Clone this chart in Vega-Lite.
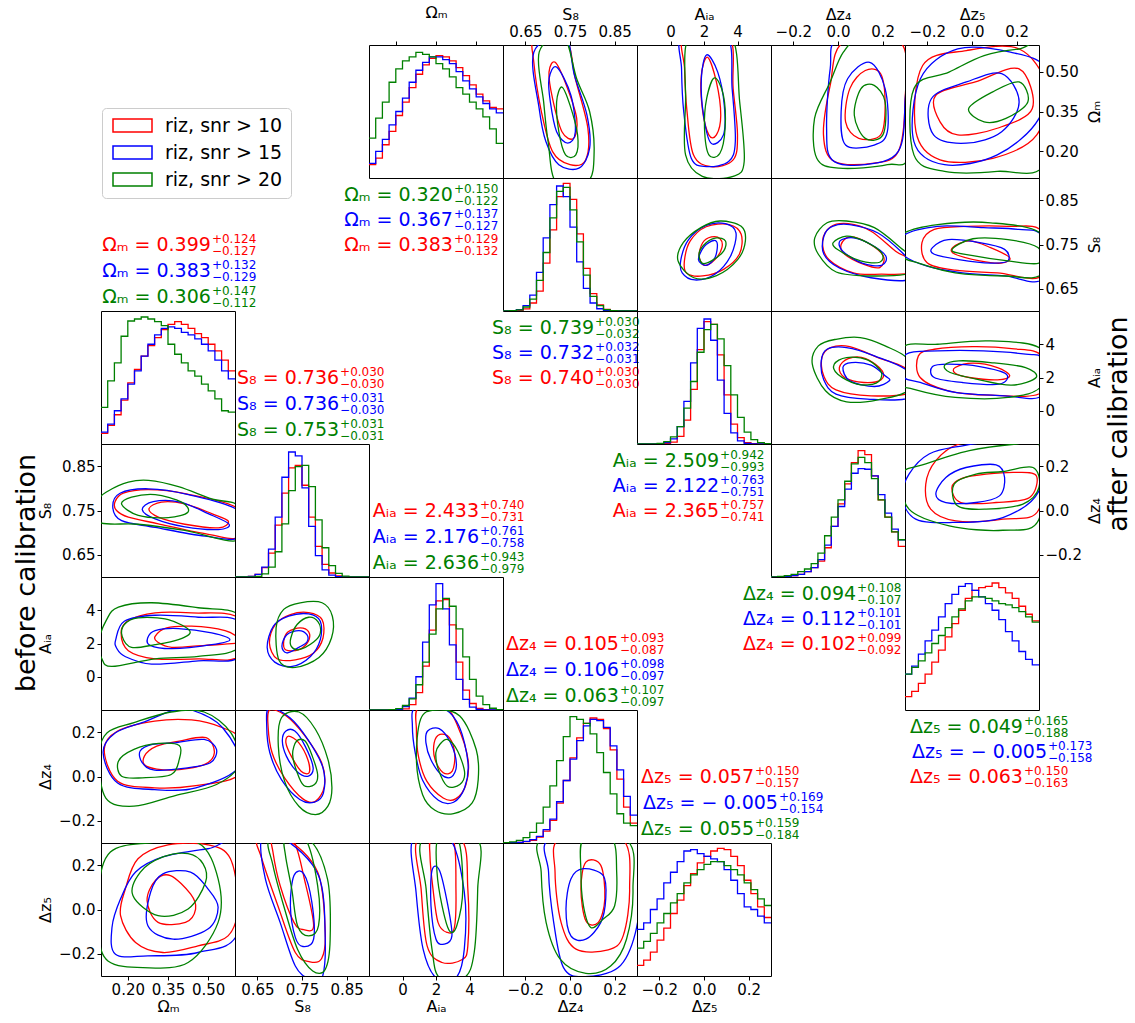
{
"$schema":"https://vega.github.io/schema/vega-lite/v6.json",
"padding":{"left":12,"top":4,"right":5,"bottom":5},
"columns":7,"spacing":0,"bounds":"flush","align":"all",
"resolve":{"scale":{"x":"independent","y":"independent","color":"independent"},"legend":{"color":"independent"}},
"config":{"font":"DejaVu Sans","view":{"stroke":"#000000","strokeWidth":1},"axis":{"labelFontSize":15,"titleFontSize":16,"labelColor":"#000000","titleColor":"#000000","tickColor":"#000000","domain":false,"grid":false,"titleFontWeight":"normal","labelOverlap":false,"labelFlush":false,"tickSize":4,"labelPadding":2,"titlePadding":2}},
"concat":[
{"width":134,"height":133,"view":{"stroke":null},"data":{"values":[{"s":"a"},{"s":"b"},{"s":"c"}]},"mark":{"type":"point","clip":true},"encoding":{"x":{"datum":-5,"type":"quantitative","scale":{"domain":[0,1]},"axis":null},"color":{"field":"s","type":"nominal","scale":{"domain":["a","b","c"],"range":["#ff0000","#0000ff","#008000"]},"legend":{"orient":"none","legendX":1,"legendY":63,"title":null,"symbolType":"M-3,-1H3V1H-3Z","symbolSize":169,"symbolOffset":13,"symbolStrokeWidth":1.5,"symbolOpacity":1,"labelFontSize":19,"labelExpr":"datum.label=='a'?'riz, snr > 10':datum.label=='b'?'riz, snr > 15':'riz, snr > 20'","strokeColor":"#cccccc","fillColor":"#ffffff","cornerRadius":4,"padding":8,"rowPadding":7,"labelOffset":23}}}},
{"width":134,"height":133,"view":{"stroke":null},"data":{"values":[]},"mark":"point"},
{"width":134,"height":133,
"encoding":{"x":{"field":"x","type":"quantitative","scale":{"domain":[0.1,0.6]},"axis":{"orient":"top","values":[0.2,0.35,0.5],"labels":false,"title":"Ωₘ","titlePadding":20}},"y":{"field":"h","type":"quantitative","scale":{"domain":[0,1]},"axis":null},"color":{"field":"s","type":"nominal","scale":{"domain":["a1","a2","b1","b2","c1","c2"],"range":["#ff0000","#ff0000","#0000ff","#0000ff","#008000","#008000"]},"legend":null}},
"layer":[
{"data":{"values":[{"x":0.1,"a1":0.1,"b1":0.11,"c1":0.3},{"x":0.125,"a1":0.15,"b1":0.2,"c1":0.45},{"x":0.15,"a1":0.25,"b1":0.29,"c1":0.57},{"x":0.175,"a1":0.35,"b1":0.4,"c1":0.72},{"x":0.2,"a1":0.47,"b1":0.5,"c1":0.82},{"x":0.225,"a1":0.57,"b1":0.6,"c1":0.88},{"x":0.25,"a1":0.68,"b1":0.72,"c1":0.91},{"x":0.275,"a1":0.78,"b1":0.81,"c1":0.945},{"x":0.3,"a1":0.85,"b1":0.87,"c1":0.93},{"x":0.325,"a1":0.9,"b1":0.91,"c1":0.91},{"x":0.35,"a1":0.92,"b1":0.91,"c1":0.86},{"x":0.375,"a1":0.91,"b1":0.89,"c1":0.82},{"x":0.4,"a1":0.88,"b1":0.86,"c1":0.76},{"x":0.425,"a1":0.83,"b1":0.8,"c1":0.68},{"x":0.45,"a1":0.77,"b1":0.73,"c1":0.63},{"x":0.475,"a1":0.7,"b1":0.67,"c1":0.57},{"x":0.5,"a1":0.63,"b1":0.61,"c1":0.52},{"x":0.525,"a1":0.58,"b1":0.56,"c1":0.46},{"x":0.55,"a1":0.53,"b1":0.52,"c1":0.37},{"x":0.575,"a1":0.52,"b1":0.49,"c1":0.26},{"x":0.6,"a1":0.52,"b1":0.49,"c1":0.26}]},"transform":[{"fold":["a1","b1","c1"],"as":["s","h"]}],"mark":{"type":"line","interpolate":"step-after","clip":true,"strokeWidth":1.3}},
{"data":{"values":[{"s":"c1","m":"Ωₘ = 0.320","u":"+0.150","d":"−0.122","x":0.413,"h":-0.128},{"s":"b1","m":"Ωₘ = 0.367","u":"+0.137","d":"−0.127","x":0.413,"h":-0.316},{"s":"a1","m":"Ωₘ = 0.383","u":"+0.129","d":"−0.132","x":0.413,"h":-0.504}]},
"layer":[{"mark":{"type":"text","align":"right","baseline":"middle","fontSize":19},"encoding":{"text":{"field":"m"}}},{"mark":{"type":"text","align":"left","baseline":"middle","fontSize":12,"dy":-6.5,"dx":1},"encoding":{"text":{"field":"u"}}},{"mark":{"type":"text","align":"left","baseline":"middle","fontSize":12,"dy":5.5,"dx":1},"encoding":{"text":{"field":"d"}}}]}
]},
{"width":134,"height":133,"data":{"values":[
{"s":"a1","x":0.717,"y":0.535},{"s":"a1","x":0.742,"y":0.448},{"s":"a1","x":0.765,"y":0.324},{"s":"a1","x":0.758,"y":0.249},{"s":"a1","x":0.732,"y":0.274},{"s":"a1","x":0.711,"y":0.398},{"s":"a1","x":0.703,"y":0.498},
{"s":"a2","x":0.74,"y":0.622},{"s":"a2","x":0.762,"y":0.473},{"s":"a2","x":0.79,"y":0.287},{"s":"a2","x":0.785,"y":0.168},{"s":"a2","x":0.75,"y":0.15},{"s":"a2","x":0.711,"y":0.199},{"s":"a2","x":0.686,"y":0.349},{"s":"a2","x":0.669,"y":0.535},{"s":"a2","x":0.671,"y":0.622},
{"s":"b1","x":0.72,"y":0.517},{"s":"b1","x":0.752,"y":0.411},{"s":"b1","x":0.762,"y":0.274},{"s":"b1","x":0.745,"y":0.231},{"s":"b1","x":0.72,"y":0.274},{"s":"b1","x":0.706,"y":0.386},{"s":"b1","x":0.703,"y":0.473},
{"s":"b2","x":0.738,"y":0.635},{"s":"b2","x":0.76,"y":0.486},{"s":"b2","x":0.788,"y":0.336},{"s":"b2","x":0.794,"y":0.212},{"s":"b2","x":0.77,"y":0.137},{"s":"b2","x":0.725,"y":0.15},{"s":"b2","x":0.696,"y":0.237},{"s":"b2","x":0.681,"y":0.361},{"s":"b2","x":0.669,"y":0.573},
{"s":"c1","x":0.732,"y":0.442},{"s":"c1","x":0.75,"y":0.374},{"s":"c1","x":0.767,"y":0.262},{"s":"c1","x":0.763,"y":0.187},{"s":"c1","x":0.74,"y":0.187},{"s":"c1","x":0.725,"y":0.274},{"s":"c1","x":0.72,"y":0.386},
{"s":"c2","x":0.735,"y":0.635},{"s":"c2","x":0.765,"y":0.473},{"s":"c2","x":0.794,"y":0.349},{"s":"c2","x":0.804,"y":0.199},{"s":"c2","x":0.79,"y":0.087},{"s":"c2","x":0.72,"y":0.081},{"s":"c2","x":0.701,"y":0.237},{"s":"c2","x":0.691,"y":0.386},{"s":"c2","x":0.681,"y":0.573}]},
"mark":{"type":"line","interpolate":"cardinal-closed","clip":true,"strokeWidth":1.3},
"encoding":{"x":{"field":"x","type":"quantitative","scale":{"domain":[0.6,0.9]},"axis":{"orient":"top","values":[0.65,0.75,0.85],"format":".2f","title":"S₈"}},"y":{"field":"y","type":"quantitative","scale":{"domain":[0.1,0.6]},"axis":null},"color":{"field":"s","type":"nominal","scale":{"domain":["a1","a2","b1","b2","c1","c2"],"range":["#ff0000","#ff0000","#0000ff","#0000ff","#008000","#008000"]},"legend":null},"order":{"value":null}}},
{"width":134,"height":133,"data":{"values":[
{"s":"a1","x":2.21,"y":0.554},{"s":"a1","x":2.74,"y":0.461},{"s":"a1","x":3.0,"y":0.336},{"s":"a1","x":2.74,"y":0.262},{"s":"a1","x":2.29,"y":0.262},{"s":"a1","x":1.9,"y":0.361},{"s":"a1","x":1.84,"y":0.486},
{"s":"a2","x":0.84,"y":0.635},{"s":"a2","x":3.47,"y":0.635},{"s":"a2","x":3.74,"y":0.436},{"s":"a2","x":4.0,"y":0.262},{"s":"a2","x":3.74,"y":0.168},{"s":"a2","x":2.42,"y":0.143},{"s":"a2","x":1.37,"y":0.187},{"s":"a2","x":0.97,"y":0.361},{"s":"a2","x":0.84,"y":0.51},
{"s":"b1","x":2.16,"y":0.563},{"s":"b1","x":2.82,"y":0.498},{"s":"b1","x":3.21,"y":0.374},{"s":"b1","x":3.16,"y":0.262},{"s":"b1","x":2.42,"y":0.231},{"s":"b1","x":1.97,"y":0.336},{"s":"b1","x":1.84,"y":0.473},
{"s":"b2","x":0.71,"y":0.635},{"s":"b2","x":3.34,"y":0.635},{"s":"b2","x":3.68,"y":0.436},{"s":"b2","x":3.87,"y":0.237},{"s":"b2","x":3.47,"y":0.162},{"s":"b2","x":2.16,"y":0.143},{"s":"b2","x":1.24,"y":0.174},{"s":"b2","x":0.79,"y":0.349},{"s":"b2","x":0.66,"y":0.51},
{"s":"c1","x":2.63,"y":0.476},{"s":"c1","x":3.16,"y":0.411},{"s":"c1","x":3.26,"y":0.287},{"s":"c1","x":2.95,"y":0.193},{"s":"c1","x":2.29,"y":0.187},{"s":"c1","x":2.03,"y":0.287},{"s":"c1","x":2.16,"y":0.399},
{"s":"c2","x":1.11,"y":0.635},{"s":"c2","x":3.61,"y":0.635},{"s":"c2","x":4.13,"y":0.386},{"s":"c2","x":4.4,"y":0.162},{"s":"c2","x":3.74,"y":0.106},{"s":"c2","x":1.9,"y":0.106},{"s":"c2","x":0.9,"y":0.187},{"s":"c2","x":0.9,"y":0.386}]},
"mark":{"type":"line","interpolate":"cardinal-closed","clip":true,"strokeWidth":1.3},
"encoding":{"x":{"field":"x","type":"quantitative","scale":{"domain":[-2,6]},"axis":{"orient":"top","values":[0,2,4],"format":"d","title":"Aᵢₐ"}},"y":{"field":"y","type":"quantitative","scale":{"domain":[0.1,0.6]},"axis":null},"color":{"field":"s","type":"nominal","scale":{"domain":["a1","a2","b1","b2","c1","c2"],"range":["#ff0000","#ff0000","#0000ff","#0000ff","#008000","#008000"]},"legend":null},"order":{"value":null}}},
{"width":134,"height":133,"data":{"values":[
{"s":"a1","x":0.053,"y":0.436},{"s":"a1","x":0.122,"y":0.504},{"s":"a1","x":0.191,"y":0.492},{"s":"a1","x":0.211,"y":0.374},{"s":"a1","x":0.191,"y":0.262},{"s":"a1","x":0.093,"y":0.249},{"s":"a1","x":0.034,"y":0.311},
{"s":"a2","x":0.024,"y":0.61},{"s":"a2","x":0.28,"y":0.61},{"s":"a2","x":0.3,"y":0.386},{"s":"a2","x":0.27,"y":0.2},{"s":"a2","x":0.162,"y":0.156},{"s":"a2","x":-0.016,"y":0.162},{"s":"a2","x":-0.065,"y":0.262},{"s":"a2","x":-0.035,"y":0.448},
{"s":"b1","x":0.043,"y":0.473},{"s":"b1","x":0.142,"y":0.535},{"s":"b1","x":0.211,"y":0.436},{"s":"b1","x":0.221,"y":0.274},{"s":"b1","x":0.162,"y":0.224},{"s":"b1","x":0.034,"y":0.224},{"s":"b1","x":0.014,"y":0.349},
{"s":"b2","x":0.004,"y":0.622},{"s":"b2","x":0.29,"y":0.622},{"s":"b2","x":0.3,"y":0.386},{"s":"b2","x":0.27,"y":0.2},{"s":"b2","x":0.122,"y":0.15},{"s":"b2","x":-0.026,"y":0.168},{"s":"b2","x":-0.051,"y":0.287},{"s":"b2","x":-0.035,"y":0.51},
{"s":"c1","x":0.103,"y":0.436},{"s":"c1","x":0.162,"y":0.448},{"s":"c1","x":0.211,"y":0.386},{"s":"c1","x":0.201,"y":0.262},{"s":"c1","x":0.122,"y":0.249},{"s":"c1","x":0.073,"y":0.336},
{"s":"c2","x":0.103,"y":0.622},{"s":"c2","x":0.32,"y":0.622},{"s":"c2","x":0.32,"y":0.2},{"s":"c2","x":0.221,"y":0.15},{"s":"c2","x":0.004,"y":0.137},{"s":"c2","x":-0.095,"y":0.174},{"s":"c2","x":-0.105,"y":0.324},{"s":"c2","x":-0.035,"y":0.461},{"s":"c2","x":0.024,"y":0.573}]},
"mark":{"type":"line","interpolate":"cardinal-closed","clip":true,"strokeWidth":1.3},
"encoding":{"x":{"field":"x","type":"quantitative","scale":{"domain":[-0.3,0.3]},"axis":{"orient":"top","values":[-0.2,0,0.2],"format":".1f","title":"Δz₄"}},"y":{"field":"y","type":"quantitative","scale":{"domain":[0.1,0.6]},"axis":null},"color":{"field":"s","type":"nominal","scale":{"domain":["a1","a2","b1","b2","c1","c2"],"range":["#ff0000","#ff0000","#0000ff","#0000ff","#008000","#008000"]},"legend":null},"order":{"value":null}}},
{"width":134,"height":133,"data":{"values":[
{"s":"a1","x":-0.162,"y":0.411},{"s":"a1","x":0.015,"y":0.461},{"s":"a1","x":0.211,"y":0.51},{"s":"a1","x":0.27,"y":0.361},{"s":"a1","x":0.113,"y":0.287},{"s":"a1","x":-0.064,"y":0.262},{"s":"a1","x":-0.143,"y":0.311},
{"s":"a2","x":-0.221,"y":0.523},{"s":"a2","x":-0.025,"y":0.579},{"s":"a2","x":0.211,"y":0.585},{"s":"a2","x":0.33,"y":0.448},{"s":"a2","x":0.29,"y":0.262},{"s":"a2","x":0.093,"y":0.174},{"s":"a2","x":-0.143,"y":0.168},{"s":"a2","x":-0.251,"y":0.274},
{"s":"b1","x":-0.182,"y":0.398},{"s":"b1","x":-0.025,"y":0.461},{"s":"b1","x":0.133,"y":0.492},{"s":"b1","x":0.211,"y":0.386},{"s":"b1","x":0.133,"y":0.274},{"s":"b1","x":-0.025,"y":0.231},{"s":"b1","x":-0.172,"y":0.262},
{"s":"b2","x":-0.231,"y":0.473},{"s":"b2","x":-0.064,"y":0.585},{"s":"b2","x":0.172,"y":0.573},{"s":"b2","x":0.33,"y":0.51},{"s":"b2","x":0.3,"y":0.324},{"s":"b2","x":0.113,"y":0.187},{"s":"b2","x":-0.123,"y":0.15},{"s":"b2","x":-0.26,"y":0.237},
{"s":"c1","x":-0.015,"y":0.361},{"s":"c1","x":0.093,"y":0.424},{"s":"c1","x":0.211,"y":0.461},{"s":"c1","x":0.25,"y":0.386},{"s":"c1","x":0.152,"y":0.324},{"s":"c1","x":0.054,"y":0.311},
{"s":"c2","x":-0.26,"y":0.436},{"s":"c2","x":-0.103,"y":0.498},{"s":"c2","x":0.054,"y":0.56},{"s":"c2","x":0.211,"y":0.585},{"s":"c2","x":0.33,"y":0.585},{"s":"c2","x":0.33,"y":0.162},{"s":"c2","x":0.113,"y":0.125},{"s":"c2","x":-0.123,"y":0.125},{"s":"c2","x":-0.26,"y":0.187}]},
"mark":{"type":"line","interpolate":"cardinal-closed","clip":true,"strokeWidth":1.3},
"encoding":{"x":{"field":"x","type":"quantitative","scale":{"domain":[-0.3,0.3]},"axis":{"orient":"top","values":[-0.2,0,0.2],"format":".1f","title":"Δz₅"}},"y":{"field":"y","type":"quantitative","scale":{"domain":[0.1,0.6]},"axis":{"orient":"right","values":[0.2,0.35,0.5],"format":".2f","title":"Ωₘ","titleAngle":270,"titleX":55,"titleBaseline":"middle"}},"color":{"field":"s","type":"nominal","scale":{"domain":["a1","a2","b1","b2","c1","c2"],"range":["#ff0000","#ff0000","#0000ff","#0000ff","#008000","#008000"]},"legend":null},"order":{"value":null}}},
{"width":134,"height":133,"view":{"stroke":null},"data":{"values":[]},"mark":"point"},
{"width":134,"height":133,"view":{"stroke":null},"data":{"values":[]},"mark":"point"},
{"width":134,"height":133,"view":{"stroke":null},"data":{"values":[]},"mark":"point"},
{"width":134,"height":133,
"encoding":{"x":{"field":"x","type":"quantitative","scale":{"domain":[0.6,0.9]},"axis":null},"y":{"field":"h","type":"quantitative","scale":{"domain":[0,1]},"axis":null},"color":{"field":"s","type":"nominal","scale":{"domain":["a1","a2","b1","b2","c1","c2"],"range":["#ff0000","#ff0000","#0000ff","#0000ff","#008000","#008000"]},"legend":null}},
"layer":[
{"data":{"values":[{"x":0.6,"a1":0,"b1":0,"c1":0},{"x":0.615,"a1":0,"b1":0.002,"c1":0.002},{"x":0.63,"a1":0.003,"b1":0.01,"c1":0.008},{"x":0.645,"a1":0.016,"b1":0.04,"c1":0.03},{"x":0.66,"a1":0.06,"b1":0.12,"c1":0.09},{"x":0.675,"a1":0.15,"b1":0.29,"c1":0.23},{"x":0.69,"a1":0.36,"b1":0.55,"c1":0.44},{"x":0.705,"a1":0.61,"b1":0.8,"c1":0.7},{"x":0.72,"a1":0.86,"b1":0.94,"c1":0.9},{"x":0.735,"a1":0.96,"b1":0.86,"c1":0.93},{"x":0.75,"a1":0.84,"b1":0.63,"c1":0.76},{"x":0.765,"a1":0.58,"b1":0.37,"c1":0.52},{"x":0.78,"a1":0.32,"b1":0.17,"c1":0.27},{"x":0.795,"a1":0.13,"b1":0.06,"c1":0.11},{"x":0.81,"a1":0.045,"b1":0.017,"c1":0.04},{"x":0.825,"a1":0.012,"b1":0.004,"c1":0.011},{"x":0.84,"a1":0.003,"b1":0,"c1":0.003},{"x":0.855,"a1":0,"b1":0,"c1":0},{"x":0.87,"a1":0,"b1":0,"c1":0},{"x":0.885,"a1":0,"b1":0,"c1":0},{"x":0.9,"a1":0,"b1":0,"c1":0}]},"transform":[{"fold":["a1","b1","c1"],"as":["s","h"]}],"mark":{"type":"line","interpolate":"step-after","clip":true,"strokeWidth":1.3}},
{"data":{"values":[{"s":"c1","m":"S₈ = 0.739","u":"+0.030","d":"−0.032","x":0.804,"h":-0.128},{"s":"b1","m":"S₈ = 0.732","u":"+0.032","d":"−0.031","x":0.804,"h":-0.316},{"s":"a1","m":"S₈ = 0.740","u":"+0.030","d":"−0.030","x":0.804,"h":-0.504}]},
"layer":[{"mark":{"type":"text","align":"right","baseline":"middle","fontSize":19},"encoding":{"text":{"field":"m"}}},{"mark":{"type":"text","align":"left","baseline":"middle","fontSize":12,"dy":-6.5,"dx":1},"encoding":{"text":{"field":"u"}}},{"mark":{"type":"text","align":"left","baseline":"middle","fontSize":12,"dy":5.5,"dx":1},"encoding":{"text":{"field":"d"}}}]}
]},
{"width":134,"height":133,"data":{"values":[
{"s":"a1","x":1.71,"y":0.724},{"s":"a1","x":1.92,"y":0.754},{"s":"a1","x":2.44,"y":0.767},{"s":"a1","x":2.96,"y":0.763},{"s":"a1","x":3.07,"y":0.743},{"s":"a1","x":2.65,"y":0.716},{"s":"a1","x":2.02,"y":0.703},
{"s":"a2","x":0.83,"y":0.713},{"s":"a2","x":1.18,"y":0.758},{"s":"a2","x":2.13,"y":0.79},{"s":"a2","x":3.49,"y":0.795},{"s":"a2","x":4.22,"y":0.773},{"s":"a2","x":4.11,"y":0.728},{"s":"a2","x":3.17,"y":0.694},{"s":"a2","x":1.92,"y":0.679},{"s":"a2","x":0.97,"y":0.685},
{"s":"b1","x":1.67,"y":0.716},{"s":"b1","x":2.02,"y":0.746},{"s":"b1","x":2.59,"y":0.759},{"s":"b1","x":2.8,"y":0.75},{"s":"b1","x":2.65,"y":0.72},{"s":"b1","x":2.13,"y":0.703},
{"s":"b2","x":0.62,"y":0.716},{"s":"b2","x":1.08,"y":0.761},{"s":"b2","x":2.13,"y":0.793},{"s":"b2","x":3.28,"y":0.797},{"s":"b2","x":3.91,"y":0.776},{"s":"b2","x":3.59,"y":0.724},{"s":"b2","x":2.65,"y":0.683},{"s":"b2","x":1.46,"y":0.67},{"s":"b2","x":0.7,"y":0.686},
{"s":"c1","x":1.71,"y":0.731},{"s":"c1","x":2.13,"y":0.754},{"s":"c1","x":2.75,"y":0.765},{"s":"c1","x":3.28,"y":0.758},{"s":"c1","x":3.17,"y":0.735},{"s":"c1","x":2.44,"y":0.713},{"s":"c1","x":1.88,"y":0.708},
{"s":"c2","x":0.45,"y":0.713},{"s":"c2","x":0.76,"y":0.754},{"s":"c2","x":1.81,"y":0.788},{"s":"c2","x":2.96,"y":0.803},{"s":"c2","x":4.22,"y":0.791},{"s":"c2","x":4.47,"y":0.758},{"s":"c2","x":4.01,"y":0.716},{"s":"c2","x":2.75,"y":0.68},{"s":"c2","x":1.39,"y":0.675}]},
"mark":{"type":"line","interpolate":"cardinal-closed","clip":true,"strokeWidth":1.3},
"encoding":{"x":{"field":"x","type":"quantitative","scale":{"domain":[-2,6]},"axis":null},"y":{"field":"y","type":"quantitative","scale":{"domain":[0.6,0.9]},"axis":null},"color":{"field":"s","type":"nominal","scale":{"domain":["a1","a2","b1","b2","c1","c2"],"range":["#ff0000","#ff0000","#0000ff","#0000ff","#008000","#008000"]},"legend":null},"order":{"value":null}}},
{"width":134,"height":133,"data":{"values":[
{"s":"a1","x":0.014,"y":0.75},{"s":"a1","x":0.053,"y":0.767},{"s":"a1","x":0.132,"y":0.754},{"s":"a1","x":0.203,"y":0.724},{"s":"a1","x":0.187,"y":0.698},{"s":"a1","x":0.116,"y":0.705},{"s":"a1","x":0.03,"y":0.728},
{"s":"a2","x":-0.069,"y":0.758},{"s":"a2","x":-0.033,"y":0.79},{"s":"a2","x":0.046,"y":0.797},{"s":"a2","x":0.148,"y":0.78},{"s":"a2","x":0.258,"y":0.735},{"s":"a2","x":0.32,"y":0.716},{"s":"a2","x":0.32,"y":0.686},{"s":"a2","x":0.195,"y":0.683},{"s":"a2","x":0.069,"y":0.686},{"s":"a2","x":-0.041,"y":0.716},
{"s":"b1","x":0.009,"y":0.758},{"s":"b1","x":0.069,"y":0.765},{"s":"b1","x":0.148,"y":0.75},{"s":"b1","x":0.214,"y":0.724},{"s":"b1","x":0.195,"y":0.703},{"s":"b1","x":0.108,"y":0.708},{"s":"b1","x":0.021,"y":0.735},
{"s":"b2","x":-0.063,"y":0.769},{"s":"b2","x":-0.025,"y":0.791},{"s":"b2","x":0.053,"y":0.795},{"s":"b2","x":0.179,"y":0.776},{"s":"b2","x":0.289,"y":0.731},{"s":"b2","x":0.32,"y":0.708},{"s":"b2","x":0.32,"y":0.671},{"s":"b2","x":0.148,"y":0.675},{"s":"b2","x":0.006,"y":0.697},{"s":"b2","x":-0.063,"y":0.728},
{"s":"c1","x":-0.022,"y":0.754},{"s":"c1","x":0.038,"y":0.769},{"s":"c1","x":0.116,"y":0.758},{"s":"c1","x":0.195,"y":0.731},{"s":"c1","x":0.187,"y":0.71},{"s":"c1","x":0.101,"y":0.713},{"s":"c1","x":0,"y":0.738},
{"s":"c2","x":-0.104,"y":0.765},{"s":"c2","x":-0.049,"y":0.799},{"s":"c2","x":0.038,"y":0.803},{"s":"c2","x":0.163,"y":0.788},{"s":"c2","x":0.289,"y":0.739},{"s":"c2","x":0.32,"y":0.724},{"s":"c2","x":0.32,"y":0.686},{"s":"c2","x":0.148,"y":0.679},{"s":"c2","x":-0.008,"y":0.688},{"s":"c2","x":-0.088,"y":0.728}]},
"mark":{"type":"line","interpolate":"cardinal-closed","clip":true,"strokeWidth":1.3},
"encoding":{"x":{"field":"x","type":"quantitative","scale":{"domain":[-0.3,0.3]},"axis":null},"y":{"field":"y","type":"quantitative","scale":{"domain":[0.6,0.9]},"axis":null},"color":{"field":"s","type":"nominal","scale":{"domain":["a1","a2","b1","b2","c1","c2"],"range":["#ff0000","#ff0000","#0000ff","#0000ff","#008000","#008000"]},"legend":null},"order":{"value":null}}},
{"width":134,"height":133,"data":{"values":[
{"s":"a1","x":-0.087,"y":0.743},{"s":"a1","x":-0.012,"y":0.758},{"s":"a1","x":0.083,"y":0.743},{"s":"a1","x":0.169,"y":0.72},{"s":"a1","x":0.13,"y":0.708},{"s":"a1","x":0.035,"y":0.713},{"s":"a1","x":-0.075,"y":0.728},
{"s":"a2","x":-0.224,"y":0.754},{"s":"a2","x":-0.169,"y":0.784},{"s":"a2","x":-0.027,"y":0.791},{"s":"a2","x":0.161,"y":0.791},{"s":"a2","x":0.311,"y":0.78},{"s":"a2","x":0.311,"y":0.679},{"s":"a2","x":0.114,"y":0.686},{"s":"a2","x":-0.075,"y":0.692},{"s":"a2","x":-0.201,"y":0.709},
{"s":"b1","x":-0.177,"y":0.743},{"s":"b1","x":-0.106,"y":0.761},{"s":"b1","x":0.035,"y":0.754},{"s":"b1","x":0.146,"y":0.739},{"s":"b1","x":0.161,"y":0.713},{"s":"b1","x":0.083,"y":0.708},{"s":"b1","x":-0.059,"y":0.716},{"s":"b1","x":-0.169,"y":0.728},
{"s":"b2","x":-0.311,"y":0.769},{"s":"b2","x":-0.154,"y":0.791},{"s":"b2","x":0.051,"y":0.788},{"s":"b2","x":0.209,"y":0.784},{"s":"b2","x":0.311,"y":0.769},{"s":"b2","x":0.311,"y":0.671},{"s":"b2","x":0.146,"y":0.679},{"s":"b2","x":-0.043,"y":0.686},{"s":"b2","x":-0.201,"y":0.701},{"s":"b2","x":-0.311,"y":0.728},
{"s":"c1","x":-0.09,"y":0.737},{"s":"c1","x":0.004,"y":0.763},{"s":"c1","x":0.161,"y":0.761},{"s":"c1","x":0.295,"y":0.743},{"s":"c1","x":0.3,"y":0.708},{"s":"c1","x":0.161,"y":0.713},{"s":"c1","x":0.004,"y":0.725},
{"s":"c2","x":-0.311,"y":0.773},{"s":"c2","x":-0.154,"y":0.795},{"s":"c2","x":0.083,"y":0.799},{"s":"c2","x":0.311,"y":0.773},{"s":"c2","x":0.311,"y":0.683},{"s":"c2","x":0.146,"y":0.679},{"s":"c2","x":-0.075,"y":0.686},{"s":"c2","x":-0.232,"y":0.707},{"s":"c2","x":-0.311,"y":0.724}]},
"mark":{"type":"line","interpolate":"cardinal-closed","clip":true,"strokeWidth":1.3},
"encoding":{"x":{"field":"x","type":"quantitative","scale":{"domain":[-0.3,0.3]},"axis":null},"y":{"field":"y","type":"quantitative","scale":{"domain":[0.6,0.9]},"axis":{"orient":"right","values":[0.65,0.75,0.85],"format":".2f","title":"S₈","titleAngle":270,"titleX":55,"titleBaseline":"middle"}},"color":{"field":"s","type":"nominal","scale":{"domain":["a1","a2","b1","b2","c1","c2"],"range":["#ff0000","#ff0000","#0000ff","#0000ff","#008000","#008000"]},"legend":null},"order":{"value":null}}},
{"width":134,"height":133,
"encoding":{"x":{"field":"x","type":"quantitative","scale":{"domain":[0.1,0.6]},"axis":null},"y":{"field":"h","type":"quantitative","scale":{"domain":[0,1]},"axis":null},"color":{"field":"s","type":"nominal","scale":{"domain":["a1","a2","b1","b2","c1","c2"],"range":["#ff0000","#ff0000","#0000ff","#0000ff","#008000","#008000"]},"legend":null}},
"layer":[
{"data":{"values":[{"x":0.1,"a1":0.08,"b1":0.09,"c1":0.275},{"x":0.125,"a1":0.14,"b1":0.15,"c1":0.475},{"x":0.15,"a1":0.22,"b1":0.25,"c1":0.61},{"x":0.175,"a1":0.33,"b1":0.34,"c1":0.81},{"x":0.2,"a1":0.46,"b1":0.45,"c1":0.925},{"x":0.225,"a1":0.56,"b1":0.55,"c1":0.94},{"x":0.25,"a1":0.66,"b1":0.66,"c1":0.955},{"x":0.275,"a1":0.74,"b1":0.75,"c1":0.94},{"x":0.3,"a1":0.8,"b1":0.82,"c1":0.92},{"x":0.325,"a1":0.86,"b1":0.87,"c1":0.89},{"x":0.35,"a1":0.9,"b1":0.88,"c1":0.75},{"x":0.375,"a1":0.92,"b1":0.87,"c1":0.675},{"x":0.4,"a1":0.9,"b1":0.84,"c1":0.61},{"x":0.425,"a1":0.87,"b1":0.82,"c1":0.55},{"x":0.45,"a1":0.83,"b1":0.79,"c1":0.51},{"x":0.475,"a1":0.8,"b1":0.75,"c1":0.45},{"x":0.5,"a1":0.75,"b1":0.7,"c1":0.4},{"x":0.525,"a1":0.7,"b1":0.63,"c1":0.34},{"x":0.55,"a1":0.63,"b1":0.55,"c1":0.25},{"x":0.575,"a1":0.55,"b1":0.49,"c1":0.24},{"x":0.6,"a1":0.55,"b1":0.49,"c1":0.24}]},"transform":[{"fold":["a1","b1","c1"],"as":["s","h"]}],"mark":{"type":"line","interpolate":"step-after","clip":true,"strokeWidth":1.3}},
{"data":{"values":[{"s":"a1","m":"Ωₘ = 0.399","u":"+0.124","d":"−0.127","x":0.51,"h":1.496},{"s":"b1","m":"Ωₘ = 0.383","u":"+0.132","d":"−0.129","x":0.51,"h":1.3},{"s":"c1","m":"Ωₘ = 0.306","u":"+0.147","d":"−0.112","x":0.51,"h":1.105}]},
"layer":[{"mark":{"type":"text","align":"right","baseline":"middle","fontSize":19},"encoding":{"text":{"field":"m"}}},{"mark":{"type":"text","align":"left","baseline":"middle","fontSize":12,"dy":-6.5,"dx":1},"encoding":{"text":{"field":"u"}}},{"mark":{"type":"text","align":"left","baseline":"middle","fontSize":12,"dy":5.5,"dx":1},"encoding":{"text":{"field":"d"}}}]}
]},
{"width":134,"height":133,"view":{"stroke":null},"data":{"values":[]},"mark":"point"},
{"width":134,"height":133,"view":{"stroke":null},"data":{"values":[]},"mark":"point"},
{"width":134,"height":133,"view":{"stroke":null},"data":{"values":[]},"mark":"point"},
{"width":134,"height":133,
"encoding":{"x":{"field":"x","type":"quantitative","scale":{"domain":[-2,6]},"axis":null},"y":{"field":"h","type":"quantitative","scale":{"domain":[0,1]},"axis":null},"color":{"field":"s","type":"nominal","scale":{"domain":["a1","a2","b1","b2","c1","c2"],"range":["#ff0000","#ff0000","#0000ff","#0000ff","#008000","#008000"]},"legend":null}},
"layer":[
{"data":{"values":[{"x":-2,"a1":0,"b1":0,"c1":0},{"x":-1.6,"a1":0,"b1":0,"c1":0},{"x":-1.2,"a1":0,"b1":0,"c1":0.001},{"x":-0.8,"a1":0,"b1":0.002,"c1":0.005},{"x":-0.4,"a1":0.003,"b1":0.01,"c1":0.018},{"x":0,"a1":0.014,"b1":0.039,"c1":0.053},{"x":0.4,"a1":0.057,"b1":0.13,"c1":0.13},{"x":0.8,"a1":0.18,"b1":0.32,"c1":0.27},{"x":1.2,"a1":0.41,"b1":0.61,"c1":0.47},{"x":1.6,"a1":0.71,"b1":0.87,"c1":0.69},{"x":2,"a1":0.92,"b1":0.94,"c1":0.86},{"x":2.4,"a1":0.9,"b1":0.78,"c1":0.9},{"x":2.8,"a1":0.67,"b1":0.48,"c1":0.79},{"x":3.2,"a1":0.37,"b1":0.23,"c1":0.59},{"x":3.6,"a1":0.15,"b1":0.083,"c1":0.37},{"x":4,"a1":0.048,"b1":0.023,"c1":0.2},{"x":4.4,"a1":0.011,"b1":0.005,"c1":0.089},{"x":4.8,"a1":0.002,"b1":0,"c1":0.033},{"x":5.2,"a1":0,"b1":0,"c1":0.011},{"x":5.6,"a1":0,"b1":0,"c1":0.003},{"x":6,"a1":0,"b1":0,"c1":0.003}]},"transform":[{"fold":["a1","b1","c1"],"as":["s","h"]}],"mark":{"type":"line","interpolate":"step-after","clip":true,"strokeWidth":1.3}},
{"data":{"values":[{"s":"c1","m":"Aᵢₐ = 2.509","u":"+0.942","d":"−0.993","x":2.9,"h":-0.128},{"s":"b1","m":"Aᵢₐ = 2.122","u":"+0.763","d":"−0.751","x":2.9,"h":-0.316},{"s":"a1","m":"Aᵢₐ = 2.365","u":"+0.757","d":"−0.741","x":2.9,"h":-0.504}]},
"layer":[{"mark":{"type":"text","align":"right","baseline":"middle","fontSize":19},"encoding":{"text":{"field":"m"}}},{"mark":{"type":"text","align":"left","baseline":"middle","fontSize":12,"dy":-6.5,"dx":1},"encoding":{"text":{"field":"u"}}},{"mark":{"type":"text","align":"left","baseline":"middle","fontSize":12,"dy":5.5,"dx":1},"encoding":{"text":{"field":"d"}}}]}
]},
{"width":134,"height":133,"data":{"values":[
{"s":"a1","x":0.006,"y":2.6},{"s":"a1","x":0.046,"y":3.14},{"s":"a1","x":0.124,"y":3.14},{"s":"a1","x":0.198,"y":2.4},{"s":"a1","x":0.192,"y":1.86},{"s":"a1","x":0.116,"y":1.7},{"s":"a1","x":0.03,"y":2.0},
{"s":"a2","x":-0.072,"y":3.2},{"s":"a2","x":-0.033,"y":3.8},{"s":"a2","x":0.053,"y":3.86},{"s":"a2","x":0.179,"y":3.2},{"s":"a2","x":0.32,"y":2.4},{"s":"a2","x":0.32,"y":1.1},{"s":"a2","x":0.148,"y":0.9},{"s":"a2","x":-0.009,"y":1.26},{"s":"a2","x":-0.064,"y":2.1},
{"s":"b1","x":0.022,"y":2.6},{"s":"b1","x":0.061,"y":2.9},{"s":"b1","x":0.148,"y":2.74},{"s":"b1","x":0.211,"y":2.1},{"s":"b1","x":0.23,"y":1.8},{"s":"b1","x":0.163,"y":1.46},{"s":"b1","x":0.053,"y":1.8},
{"s":"b2","x":-0.075,"y":3.0},{"s":"b2","x":-0.049,"y":3.7},{"s":"b2","x":0.038,"y":3.8},{"s":"b2","x":0.163,"y":3.3},{"s":"b2","x":0.32,"y":2.3},{"s":"b2","x":0.32,"y":0.8},{"s":"b2","x":0.132,"y":0.7},{"s":"b2","x":-0.009,"y":1.0},{"s":"b2","x":-0.064,"y":1.86},
{"s":"c1","x":-0.017,"y":2.8},{"s":"c1","x":0.038,"y":3.2},{"s":"c1","x":0.132,"y":3.06},{"s":"c1","x":0.195,"y":2.3},{"s":"c1","x":0.171,"y":1.66},{"s":"c1","x":0.085,"y":1.6},{"s":"c1","x":-0.001,"y":2.2},
{"s":"c2","x":-0.115,"y":2.8},{"s":"c2","x":-0.088,"y":3.9},{"s":"c2","x":-0.009,"y":4.3},{"s":"c2","x":0.1,"y":4.4},{"s":"c2","x":0.211,"y":3.9},{"s":"c2","x":0.32,"y":3.0},{"s":"c2","x":0.32,"y":1.3},{"s":"c2","x":0.179,"y":0.66},{"s":"c2","x":0.038,"y":0.54},{"s":"c2","x":-0.056,"y":1.2}]},
"mark":{"type":"line","interpolate":"cardinal-closed","clip":true,"strokeWidth":1.3},
"encoding":{"x":{"field":"x","type":"quantitative","scale":{"domain":[-0.3,0.3]},"axis":null},"y":{"field":"y","type":"quantitative","scale":{"domain":[-2,6]},"axis":null},"color":{"field":"s","type":"nominal","scale":{"domain":["a1","a2","b1","b2","c1","c2"],"range":["#ff0000","#ff0000","#0000ff","#0000ff","#008000","#008000"]},"legend":null},"order":{"value":null}}},
{"width":134,"height":133,
"encoding":{"x":{"field":"x","type":"quantitative","scale":{"domain":[-0.3,0.3]},"axis":null},"y":{"field":"y","type":"quantitative","scale":{"domain":[-2,6]},"axis":{"orient":"right","values":[0,2,4],"format":"d","title":"Aᵢₐ","titleAngle":270,"titleX":55,"titleBaseline":"middle"}}},
"layer":[
{"data":{"values":[
{"s":"a1","x":-0.075,"y":2.6},{"s":"a1","x":0.004,"y":2.86},{"s":"a1","x":0.114,"y":2.6},{"s":"a1","x":0.169,"y":2.1},{"s":"a1","x":0.114,"y":1.86},{"s":"a1","x":-0.012,"y":2.0},{"s":"a1","x":-0.075,"y":2.26},
{"s":"a2","x":-0.24,"y":3.3},{"s":"a2","x":-0.169,"y":3.7},{"s":"a2","x":0.004,"y":3.86},{"s":"a2","x":0.177,"y":3.74},{"s":"a2","x":0.311,"y":3.3},{"s":"a2","x":0.311,"y":1.1},{"s":"a2","x":0.083,"y":0.94},{"s":"a2","x":-0.106,"y":1.2},{"s":"a2","x":-0.232,"y":2.0},
{"s":"b1","x":-0.177,"y":2.66},{"s":"b1","x":-0.106,"y":2.8},{"s":"b1","x":0.035,"y":2.66},{"s":"b1","x":0.154,"y":2.2},{"s":"b1","x":0.122,"y":1.6},{"s":"b1","x":-0.043,"y":1.7},{"s":"b1","x":-0.169,"y":2.0},
{"s":"b2","x":-0.295,"y":3.4},{"s":"b2","x":-0.154,"y":3.6},{"s":"b2","x":0.051,"y":3.6},{"s":"b2","x":0.24,"y":3.4},{"s":"b2","x":0.311,"y":3.1},{"s":"b2","x":0.311,"y":0.9},{"s":"b2","x":0.146,"y":0.9},{"s":"b2","x":-0.075,"y":1.1},{"s":"b2","x":-0.232,"y":1.7},{"s":"b2","x":-0.311,"y":2.1},
{"s":"c1","x":-0.122,"y":2.74},{"s":"c1","x":-0.059,"y":3.0},{"s":"c1","x":0.083,"y":2.9},{"s":"c1","x":0.24,"y":2.6},{"s":"c1","x":0.287,"y":2.0},{"s":"c1","x":0.177,"y":1.54},{"s":"c1","x":0.02,"y":1.9},{"s":"c1","x":-0.098,"y":2.3},
{"s":"c2","x":-0.311,"y":3.8},{"s":"c2","x":-0.154,"y":4.0},{"s":"c2","x":0.083,"y":4.2},{"s":"c2","x":0.311,"y":3.7},{"s":"c2","x":0.311,"y":1.5},{"s":"c2","x":0.161,"y":0.8},{"s":"c2","x":-0.075,"y":0.8},{"s":"c2","x":-0.264,"y":1.3},{"s":"c2","x":-0.311,"y":1.7}]},
"mark":{"type":"line","interpolate":"cardinal-closed","clip":true,"strokeWidth":1.3},
"encoding":{"color":{"field":"s","type":"nominal","scale":{"domain":["a1","a2","b1","b2","c1","c2"],"range":["#ff0000","#ff0000","#0000ff","#0000ff","#008000","#008000"]},"legend":null},"order":{"value":null}}},
{"data":{"values":[{"t":"after calibration","x":0.66,"y":-0.8}]},"mark":{"type":"text","angle":270,"fontSize":27,"align":"center","baseline":"middle"},"encoding":{"text":{"field":"t"}}}
]},
{"width":134,"height":133,
"encoding":{"x":{"field":"x","type":"quantitative","scale":{"domain":[0.1,0.6]},"axis":null},"y":{"field":"y","type":"quantitative","scale":{"domain":[0.6,0.9]},"axis":{"orient":"left","values":[0.65,0.75,0.85],"format":".2f","title":"S₈","titleX":-56,"titleBaseline":"middle"}},"color":{"field":"s","type":"nominal","scale":{"domain":["a1","a2","b1","b2","c1","c2"],"range":["#ff0000","#ff0000","#0000ff","#0000ff","#008000","#008000"]},"legend":null},"order":{"value":null}},
"data":{"values":[
{"s":"a1","x":0.279,"y":0.754},{"s":"a1","x":0.326,"y":0.769},{"s":"a1","x":0.413,"y":0.765},{"s":"a1","x":0.513,"y":0.743},{"s":"a1","x":0.575,"y":0.726},{"s":"a1","x":0.538,"y":0.711},{"s":"a1","x":0.413,"y":0.719},{"s":"a1","x":0.314,"y":0.735},
{"s":"a2","x":0.152,"y":0.769},{"s":"a2","x":0.183,"y":0.789},{"s":"a2","x":0.277,"y":0.797},{"s":"a2","x":0.413,"y":0.788},{"s":"a2","x":0.612,"y":0.754},{"s":"a2","x":0.612,"y":0.69},{"s":"a2","x":0.488,"y":0.698},{"s":"a2","x":0.314,"y":0.72},{"s":"a2","x":0.202,"y":0.735},{"s":"a2","x":0.158,"y":0.75},
{"s":"b1","x":0.254,"y":0.752},{"s":"b1","x":0.295,"y":0.77},{"s":"b1","x":0.395,"y":0.769},{"s":"b1","x":0.5,"y":0.743},{"s":"b1","x":0.578,"y":0.719},{"s":"b1","x":0.538,"y":0.707},{"s":"b1","x":0.413,"y":0.713},{"s":"b1","x":0.302,"y":0.731},
{"s":"b2","x":0.144,"y":0.757},{"s":"b2","x":0.171,"y":0.789},{"s":"b2","x":0.277,"y":0.799},{"s":"b2","x":0.426,"y":0.786},{"s":"b2","x":0.612,"y":0.75},{"s":"b2","x":0.612,"y":0.689},{"s":"b2","x":0.488,"y":0.692},{"s":"b2","x":0.302,"y":0.712},{"s":"b2","x":0.177,"y":0.727},
{"s":"c1","x":0.177,"y":0.764},{"s":"c1","x":0.214,"y":0.78},{"s":"c1","x":0.302,"y":0.786},{"s":"c1","x":0.401,"y":0.769},{"s":"c1","x":0.424,"y":0.746},{"s":"c1","x":0.351,"y":0.734},{"s":"c1","x":0.239,"y":0.739},
{"s":"c2","x":0.09,"y":0.773},{"s":"c2","x":0.127,"y":0.794},{"s":"c2","x":0.202,"y":0.814},{"s":"c2","x":0.277,"y":0.818},{"s":"c2","x":0.389,"y":0.804},{"s":"c2","x":0.513,"y":0.776},{"s":"c2","x":0.612,"y":0.759},{"s":"c2","x":0.612,"y":0.683},{"s":"c2","x":0.413,"y":0.705},{"s":"c2","x":0.239,"y":0.719},{"s":"c2","x":0.09,"y":0.724}]},
"mark":{"type":"line","interpolate":"cardinal-closed","clip":true,"strokeWidth":1.3}},
{"width":134,"height":133,
"encoding":{"x":{"field":"x","type":"quantitative","scale":{"domain":[0.6,0.9]},"axis":null},"y":{"field":"h","type":"quantitative","scale":{"domain":[0,1]},"axis":null},"color":{"field":"s","type":"nominal","scale":{"domain":["a1","a2","b1","b2","c1","c2"],"range":["#ff0000","#ff0000","#0000ff","#0000ff","#008000","#008000"]},"legend":null}},
"layer":[
{"data":{"values":[{"x":0.6,"a1":0,"b1":0,"c1":0},{"x":0.615,"a1":0,"b1":0,"c1":0},{"x":0.63,"a1":0.005,"b1":0.004,"c1":0},{"x":0.645,"a1":0.02,"b1":0.02,"c1":0.005},{"x":0.66,"a1":0.07,"b1":0.075,"c1":0.023},{"x":0.675,"a1":0.18,"b1":0.21,"c1":0.075},{"x":0.69,"a1":0.39,"b1":0.45,"c1":0.19},{"x":0.705,"a1":0.63,"b1":0.75,"c1":0.4},{"x":0.72,"a1":0.82,"b1":0.94,"c1":0.65},{"x":0.735,"a1":0.84,"b1":0.91,"c1":0.83},{"x":0.75,"a1":0.69,"b1":0.67,"c1":0.84},{"x":0.765,"a1":0.45,"b1":0.38,"c1":0.68},{"x":0.78,"a1":0.23,"b1":0.16,"c1":0.43},{"x":0.795,"a1":0.095,"b1":0.054,"c1":0.22},{"x":0.81,"a1":0.03,"b1":0.014,"c1":0.085},{"x":0.825,"a1":0.008,"b1":0.003,"c1":0.027},{"x":0.84,"a1":0,"b1":0,"c1":0.007},{"x":0.855,"a1":0,"b1":0,"c1":0},{"x":0.87,"a1":0,"b1":0,"c1":0},{"x":0.885,"a1":0,"b1":0,"c1":0},{"x":0.9,"a1":0,"b1":0,"c1":0}]},"transform":[{"fold":["a1","b1","c1"],"as":["s","h"]}],"mark":{"type":"line","interpolate":"step-after","clip":true,"strokeWidth":1.3}},
{"data":{"values":[{"s":"a1","m":"S₈ = 0.736","u":"+0.030","d":"−0.030","x":0.833,"h":1.496},{"s":"b1","m":"S₈ = 0.736","u":"+0.031","d":"−0.030","x":0.833,"h":1.3},{"s":"c1","m":"S₈ = 0.753","u":"+0.031","d":"−0.031","x":0.833,"h":1.105}]},
"layer":[{"mark":{"type":"text","align":"right","baseline":"middle","fontSize":19},"encoding":{"text":{"field":"m"}}},{"mark":{"type":"text","align":"left","baseline":"middle","fontSize":12,"dy":-6.5,"dx":1},"encoding":{"text":{"field":"u"}}},{"mark":{"type":"text","align":"left","baseline":"middle","fontSize":12,"dy":5.5,"dx":1},"encoding":{"text":{"field":"d"}}}]}
]},
{"width":134,"height":133,"view":{"stroke":null},"data":{"values":[]},"mark":"point"},
{"width":134,"height":133,"view":{"stroke":null},"data":{"values":[]},"mark":"point"},
{"width":134,"height":133,"view":{"stroke":null},"data":{"values":[]},"mark":"point"},
{"width":134,"height":133,
"encoding":{"x":{"field":"x","type":"quantitative","scale":{"domain":[-0.3,0.3]},"axis":null},"y":{"field":"h","type":"quantitative","scale":{"domain":[0,1]},"axis":null},"color":{"field":"s","type":"nominal","scale":{"domain":["a1","a2","b1","b2","c1","c2"],"range":["#ff0000","#ff0000","#0000ff","#0000ff","#008000","#008000"]},"legend":null}},
"layer":[
{"data":{"values":[{"x":-0.3,"a1":0,"b1":0,"c1":0},{"x":-0.27,"a1":0.003,"b1":0.003,"c1":0.005},{"x":-0.24,"a1":0.006,"b1":0.005,"c1":0.01},{"x":-0.21,"a1":0.01,"b1":0.01,"c1":0.02},{"x":-0.18,"a1":0.02,"b1":0.02,"c1":0.04},{"x":-0.15,"a1":0.04,"b1":0.04,"c1":0.06},{"x":-0.12,"a1":0.07,"b1":0.07,"c1":0.1},{"x":-0.09,"a1":0.12,"b1":0.13,"c1":0.18},{"x":-0.06,"a1":0.22,"b1":0.24,"c1":0.31},{"x":-0.03,"a1":0.38,"b1":0.38,"c1":0.45},{"x":0,"a1":0.55,"b1":0.53,"c1":0.58},{"x":0.03,"a1":0.7,"b1":0.66,"c1":0.72},{"x":0.06,"a1":0.86,"b1":0.78,"c1":0.85},{"x":0.09,"a1":0.95,"b1":0.815,"c1":0.9},{"x":0.12,"a1":0.92,"b1":0.81,"c1":0.86},{"x":0.15,"a1":0.76,"b1":0.76,"c1":0.74},{"x":0.18,"a1":0.58,"b1":0.62,"c1":0.58},{"x":0.21,"a1":0.45,"b1":0.48,"c1":0.45},{"x":0.24,"a1":0.34,"b1":0.36,"c1":0.34},{"x":0.27,"a1":0.23,"b1":0.28,"c1":0.28},{"x":0.3,"a1":0.23,"b1":0.28,"c1":0.28}]},"transform":[{"fold":["a1","b1","c1"],"as":["s","h"]}],"mark":{"type":"line","interpolate":"step-after","clip":true,"strokeWidth":1.3}},
{"data":{"values":[{"s":"c1","m":"Δz₄ = 0.094","u":"+0.108","d":"−0.107","x":0.081,"h":-0.128},{"s":"b1","m":"Δz₄ = 0.112","u":"+0.101","d":"−0.101","x":0.081,"h":-0.316},{"s":"a1","m":"Δz₄ = 0.102","u":"+0.099","d":"−0.092","x":0.081,"h":-0.504}]},
"layer":[{"mark":{"type":"text","align":"right","baseline":"middle","fontSize":19},"encoding":{"text":{"field":"m"}}},{"mark":{"type":"text","align":"left","baseline":"middle","fontSize":12,"dy":-6.5,"dx":1},"encoding":{"text":{"field":"u"}}},{"mark":{"type":"text","align":"left","baseline":"middle","fontSize":12,"dy":5.5,"dx":1},"encoding":{"text":{"field":"d"}}}]}
]},
{"width":134,"height":133,"data":{"values":[
{"s":"a1","x":-0.09,"y":0.104},{"s":"a1","x":-0.042,"y":0.146},{"s":"a1","x":0.063,"y":0.164},{"s":"a1","x":0.198,"y":0.172},{"s":"a1","x":0.288,"y":0.157},{"s":"a1","x":0.258,"y":0.059},{"s":"a1","x":0.108,"y":0.036},{"s":"a1","x":-0.05,"y":0.036},
{"s":"a2","x":-0.207,"y":0.119},{"s":"a2","x":-0.162,"y":0.225},{"s":"a2","x":-0.057,"y":0.3},{"s":"a2","x":0.138,"y":0.315},{"s":"a2","x":0.3,"y":0.315},{"s":"a2","x":0.3,"y":0.006},{"s":"a2","x":0.138,"y":-0.039},{"s":"a2","x":-0.072,"y":-0.047},{"s":"a2","x":-0.185,"y":0.006},
{"s":"b1","x":-0.162,"y":0.074},{"s":"b1","x":-0.117,"y":0.149},{"s":"b1","x":-0.027,"y":0.194},{"s":"b1","x":0.108,"y":0.206},{"s":"b1","x":0.146,"y":0.149},{"s":"b1","x":0.123,"y":0.066},{"s":"b1","x":0.018,"y":0.036},{"s":"b1","x":-0.117,"y":0.036},
{"s":"b2","x":-0.312,"y":0.059},{"s":"b2","x":-0.282,"y":0.164},{"s":"b2","x":-0.192,"y":0.255},{"s":"b2","x":-0.042,"y":0.292},{"s":"b2","x":0.138,"y":0.315},{"s":"b2","x":0.3,"y":0.315},{"s":"b2","x":0.3,"y":0.089},{"s":"b2","x":0.138,"y":-0.032},{"s":"b2","x":-0.087,"y":-0.054},{"s":"b2","x":-0.252,"y":-0.039},
{"s":"c1","x":-0.08,"y":0.119},{"s":"c1","x":0.018,"y":0.164},{"s":"c1","x":0.138,"y":0.176},{"s":"c1","x":0.273,"y":0.194},{"s":"c1","x":0.3,"y":0.104},{"s":"c1","x":0.228,"y":0.029},{"s":"c1","x":0.063,"y":0.006},{"s":"c1","x":-0.065,"y":0.021},
{"s":"c2","x":-0.312,"y":0.164},{"s":"c2","x":-0.207,"y":0.21},{"s":"c2","x":-0.012,"y":0.27},{"s":"c2","x":0.198,"y":0.3},{"s":"c2","x":0.3,"y":0.3},{"s":"c2","x":0.3,"y":-0.039},{"s":"c2","x":0.138,"y":-0.089},{"s":"c2","x":-0.102,"y":-0.069},{"s":"c2","x":-0.282,"y":0.006}]},
"mark":{"type":"line","interpolate":"cardinal-closed","clip":true,"strokeWidth":1.3},
"encoding":{"x":{"field":"x","type":"quantitative","scale":{"domain":[-0.3,0.3]},"axis":null},"y":{"field":"y","type":"quantitative","scale":{"domain":[-0.3,0.3]},"axis":{"orient":"right","values":[-0.2,0,0.2],"format":".1f","title":"Δz₄","titleAngle":270,"titleX":55,"titleBaseline":"middle"}},"color":{"field":"s","type":"nominal","scale":{"domain":["a1","a2","b1","b2","c1","c2"],"range":["#ff0000","#ff0000","#0000ff","#0000ff","#008000","#008000"]},"legend":null},"order":{"value":null}}},
{"width":134,"height":133,
"encoding":{"x":{"field":"x","type":"quantitative","scale":{"domain":[0.1,0.6]},"axis":null},"y":{"field":"y","type":"quantitative","scale":{"domain":[-2,6]},"axis":{"orient":"left","values":[0,2,4],"format":"d","title":"Aᵢₐ","titleX":-56,"titleBaseline":"middle"}}},
"layer":[
{"data":{"values":[
{"s":"a1","x":0.302,"y":2.43},{"s":"a1","x":0.345,"y":2.94},{"s":"a1","x":0.438,"y":3.04},{"s":"a1","x":0.563,"y":2.78},{"s":"a1","x":0.612,"y":2.33},{"s":"a1","x":0.612,"y":2.03},{"s":"a1","x":0.488,"y":1.89},{"s":"a1","x":0.364,"y":1.77},{"s":"a1","x":0.311,"y":2.09},
{"s":"a2","x":0.175,"y":2.64},{"s":"a2","x":0.202,"y":3.38},{"s":"a2","x":0.302,"y":3.84},{"s":"a2","x":0.438,"y":3.84},{"s":"a2","x":0.612,"y":3.54},{"s":"a2","x":0.612,"y":1.22},{"s":"a2","x":0.463,"y":1.08},{"s":"a2","x":0.302,"y":1.08},{"s":"a2","x":0.202,"y":1.57},
{"s":"b1","x":0.274,"y":2.33},{"s":"b1","x":0.302,"y":2.78},{"s":"b1","x":0.389,"y":2.9},{"s":"b1","x":0.513,"y":2.64},{"s":"b1","x":0.581,"y":2.23},{"s":"b1","x":0.513,"y":1.93},{"s":"b1","x":0.364,"y":1.69},{"s":"b1","x":0.283,"y":1.89},
{"s":"b2","x":0.155,"y":2.23},{"s":"b2","x":0.187,"y":3.34},{"s":"b2","x":0.302,"y":3.7},{"s":"b2","x":0.463,"y":3.58},{"s":"b2","x":0.612,"y":3.34},{"s":"b2","x":0.612,"y":1.16},{"s":"b2","x":0.463,"y":0.96},{"s":"b2","x":0.289,"y":0.76},{"s":"b2","x":0.19,"y":1.22},{"s":"b2","x":0.158,"y":1.73},
{"s":"c1","x":0.187,"y":3.14},{"s":"c1","x":0.239,"y":3.54},{"s":"c1","x":0.351,"y":3.44},{"s":"c1","x":0.432,"y":2.74},{"s":"c1","x":0.389,"y":2.23},{"s":"c1","x":0.302,"y":1.93},{"s":"c1","x":0.214,"y":1.77},{"s":"c1","x":0.179,"y":2.43},
{"s":"c2","x":0.09,"y":2.03},{"s":"c2","x":0.121,"y":3.44},{"s":"c2","x":0.165,"y":4.19},{"s":"c2","x":0.289,"y":4.45},{"s":"c2","x":0.463,"y":4.15},{"s":"c2","x":0.612,"y":3.74},{"s":"c2","x":0.612,"y":1.73},{"s":"c2","x":0.463,"y":1.22},{"s":"c2","x":0.302,"y":1.08},{"s":"c2","x":0.14,"y":0.62},{"s":"c2","x":0.102,"y":1.12}]},
"mark":{"type":"line","interpolate":"cardinal-closed","clip":true,"strokeWidth":1.3},
"encoding":{"color":{"field":"s","type":"nominal","scale":{"domain":["a1","a2","b1","b2","c1","c2"],"range":["#ff0000","#ff0000","#0000ff","#0000ff","#008000","#008000"]},"legend":null},"order":{"value":null}}},
{"data":{"values":[{"t":"before calibration","x":-0.176,"y":6.24}]},"mark":{"type":"text","angle":270,"fontSize":27,"align":"center","baseline":"middle"},"encoding":{"text":{"field":"t"}}}
]},
{"width":134,"height":133,"data":{"values":[
{"s":"a1","x":0.709,"y":2.13},{"s":"a1","x":0.719,"y":2.7},{"s":"a1","x":0.746,"y":2.94},{"s":"a1","x":0.765,"y":2.7},{"s":"a1","x":0.764,"y":2.13},{"s":"a1","x":0.743,"y":1.63},{"s":"a1","x":0.714,"y":1.61},
{"s":"a2","x":0.677,"y":2.03},{"s":"a2","x":0.69,"y":3.14},{"s":"a2","x":0.724,"y":3.74},{"s":"a2","x":0.765,"y":3.86},{"s":"a2","x":0.795,"y":3.44},{"s":"a2","x":0.797,"y":2.33},{"s":"a2","x":0.776,"y":1.43},{"s":"a2","x":0.735,"y":1.02},{"s":"a2","x":0.694,"y":1.08},
{"s":"b1","x":0.705,"y":1.83},{"s":"b1","x":0.716,"y":2.53},{"s":"b1","x":0.743,"y":2.78},{"s":"b1","x":0.761,"y":2.53},{"s":"b1","x":0.761,"y":2.09},{"s":"b1","x":0.743,"y":1.77},{"s":"b1","x":0.716,"y":1.43},
{"s":"b2","x":0.672,"y":1.77},{"s":"b2","x":0.686,"y":3.04},{"s":"b2","x":0.72,"y":3.64},{"s":"b2","x":0.765,"y":3.78},{"s":"b2","x":0.791,"y":3.34},{"s":"b2","x":0.791,"y":2.23},{"s":"b2","x":0.769,"y":1.22},{"s":"b2","x":0.728,"y":0.62},{"s":"b2","x":0.689,"y":0.88},
{"s":"c1","x":0.725,"y":2.33},{"s":"c1","x":0.739,"y":3.14},{"s":"c1","x":0.765,"y":3.58},{"s":"c1","x":0.786,"y":3.3},{"s":"c1","x":0.791,"y":2.63},{"s":"c1","x":0.776,"y":2.09},{"s":"c1","x":0.743,"y":1.63},{"s":"c1","x":0.726,"y":1.83},
{"s":"c2","x":0.692,"y":2.94},{"s":"c2","x":0.709,"y":4.05},{"s":"c2","x":0.746,"y":4.45},{"s":"c2","x":0.795,"y":4.45},{"s":"c2","x":0.818,"y":3.64},{"s":"c2","x":0.816,"y":2.33},{"s":"c2","x":0.788,"y":1.16},{"s":"c2","x":0.735,"y":0.56},{"s":"c2","x":0.699,"y":0.96}]},
"mark":{"type":"line","interpolate":"cardinal-closed","clip":true,"strokeWidth":1.3},
"encoding":{"x":{"field":"x","type":"quantitative","scale":{"domain":[0.6,0.9]},"axis":null},"y":{"field":"y","type":"quantitative","scale":{"domain":[-2,6]},"axis":null},"color":{"field":"s","type":"nominal","scale":{"domain":["a1","a2","b1","b2","c1","c2"],"range":["#ff0000","#ff0000","#0000ff","#0000ff","#008000","#008000"]},"legend":null},"order":{"value":null}}},
{"width":134,"height":133,
"encoding":{"x":{"field":"x","type":"quantitative","scale":{"domain":[-2,6]},"axis":null},"y":{"field":"h","type":"quantitative","scale":{"domain":[0,1]},"axis":null},"color":{"field":"s","type":"nominal","scale":{"domain":["a1","a2","b1","b2","c1","c2"],"range":["#ff0000","#ff0000","#0000ff","#0000ff","#008000","#008000"]},"legend":null}},
"layer":[
{"data":{"values":[{"x":-2,"a1":0,"b1":0,"c1":0},{"x":-1.6,"a1":0,"b1":0,"c1":0},{"x":-1.2,"a1":0,"b1":0,"c1":0},{"x":-0.8,"a1":0,"b1":0.001,"c1":0.003},{"x":-0.4,"a1":0.002,"b1":0.005,"c1":0.011},{"x":0,"a1":0.009,"b1":0.025,"c1":0.034},{"x":0.4,"a1":0.04,"b1":0.09,"c1":0.084},{"x":0.8,"a1":0.13,"b1":0.25,"c1":0.19},{"x":1.2,"a1":0.33,"b1":0.51,"c1":0.36},{"x":1.6,"a1":0.6,"b1":0.79,"c1":0.57},{"x":2,"a1":0.82,"b1":0.95,"c1":0.76},{"x":2.4,"a1":0.83,"b1":0.76,"c1":0.84},{"x":2.8,"a1":0.64,"b1":0.49,"c1":0.78},{"x":3.2,"a1":0.36,"b1":0.23,"c1":0.61},{"x":3.6,"a1":0.15,"b1":0.08,"c1":0.4},{"x":4,"a1":0.049,"b1":0.022,"c1":0.23},{"x":4.4,"a1":0.012,"b1":0.005,"c1":0.105},{"x":4.8,"a1":0.002,"b1":0,"c1":0.041},{"x":5.2,"a1":0,"b1":0,"c1":0.013},{"x":5.6,"a1":0,"b1":0,"c1":0.003},{"x":6,"a1":0,"b1":0,"c1":0.003}]},"transform":[{"fold":["a1","b1","c1"],"as":["s","h"]}],"mark":{"type":"line","interpolate":"step-after","clip":true,"strokeWidth":1.3}},
{"data":{"values":[{"s":"a1","m":"Aᵢₐ = 2.433","u":"+0.740","d":"−0.731","x":4.57,"h":1.496},{"s":"b1","m":"Aᵢₐ = 2.176","u":"+0.761","d":"−0.758","x":4.57,"h":1.3},{"s":"c1","m":"Aᵢₐ = 2.636","u":"+0.943","d":"−0.979","x":4.57,"h":1.105}]},
"layer":[{"mark":{"type":"text","align":"right","baseline":"middle","fontSize":19},"encoding":{"text":{"field":"m"}}},{"mark":{"type":"text","align":"left","baseline":"middle","fontSize":12,"dy":-6.5,"dx":1},"encoding":{"text":{"field":"u"}}},{"mark":{"type":"text","align":"left","baseline":"middle","fontSize":12,"dy":5.5,"dx":1},"encoding":{"text":{"field":"d"}}}]}
]},
{"width":134,"height":133,"view":{"stroke":null},"data":{"values":[]},"mark":"point"},
{"width":134,"height":133,"view":{"stroke":null},"data":{"values":[]},"mark":"point"},
{"width":134,"height":133,"view":{"stroke":null},"data":{"values":[]},"mark":"point"},
{"width":134,"height":133,
"encoding":{"x":{"field":"x","type":"quantitative","scale":{"domain":[-0.3,0.3]},"axis":null},"y":{"field":"h","type":"quantitative","scale":{"domain":[0,1]},"axis":null},"color":{"field":"s","type":"nominal","scale":{"domain":["a1","a2","b1","b2","c1","c2"],"range":["#ff0000","#ff0000","#0000ff","#0000ff","#008000","#008000"]},"legend":null}},
"layer":[
{"data":{"values":[{"x":-0.3,"a1":0.1,"b1":0.27,"c1":0.27},{"x":-0.27,"a1":0.14,"b1":0.33,"c1":0.32},{"x":-0.24,"a1":0.2,"b1":0.42,"c1":0.37},{"x":-0.21,"a1":0.27,"b1":0.52,"c1":0.43},{"x":-0.18,"a1":0.36,"b1":0.6,"c1":0.5},{"x":-0.15,"a1":0.45,"b1":0.7,"c1":0.56},{"x":-0.12,"a1":0.55,"b1":0.8,"c1":0.62},{"x":-0.09,"a1":0.65,"b1":0.87,"c1":0.7},{"x":-0.06,"a1":0.75,"b1":0.93,"c1":0.76},{"x":-0.03,"a1":0.84,"b1":0.95,"c1":0.82},{"x":0,"a1":0.9,"b1":0.9,"c1":0.85},{"x":0.03,"a1":0.92,"b1":0.85,"c1":0.85},{"x":0.06,"a1":0.93,"b1":0.8,"c1":0.84},{"x":0.09,"a1":0.955,"b1":0.75,"c1":0.82},{"x":0.12,"a1":0.92,"b1":0.68,"c1":0.8},{"x":0.15,"a1":0.88,"b1":0.59,"c1":0.79},{"x":0.18,"a1":0.84,"b1":0.52,"c1":0.77},{"x":0.21,"a1":0.78,"b1":0.44,"c1":0.74},{"x":0.24,"a1":0.72,"b1":0.38,"c1":0.7},{"x":0.27,"a1":0.67,"b1":0.34,"c1":0.66},{"x":0.3,"a1":0.67,"b1":0.34,"c1":0.66}]},"transform":[{"fold":["a1","b1","c1"],"as":["s","h"]}],"mark":{"type":"line","interpolate":"step-after","clip":true,"strokeWidth":1.3}},
{"data":{"values":[{"s":"c1","m":"Δz₅ = 0.049","u":"+0.165","d":"−0.188","x":0.228,"h":-0.128},{"s":"b1","m":"Δz₅ = − 0.005","u":"+0.173","d":"−0.158","x":0.336,"h":-0.316},{"s":"a1","m":"Δz₅ = 0.063","u":"+0.150","d":"−0.163","x":0.228,"h":-0.504}]},
"layer":[{"mark":{"type":"text","align":"right","baseline":"middle","fontSize":19},"encoding":{"text":{"field":"m"}}},{"mark":{"type":"text","align":"left","baseline":"middle","fontSize":12,"dy":-6.5,"dx":1},"encoding":{"text":{"field":"u"}}},{"mark":{"type":"text","align":"left","baseline":"middle","fontSize":12,"dy":5.5,"dx":1},"encoding":{"text":{"field":"d"}}}]}
]},
{"width":134,"height":133,"data":{"values":[
{"s":"a1","x":0.262,"y":0.092},{"s":"a1","x":0.308,"y":0.137},{"s":"a1","x":0.392,"y":0.16},{"s":"a1","x":0.492,"y":0.175},{"s":"a1","x":0.523,"y":0.107},{"s":"a1","x":0.485,"y":0.054},{"s":"a1","x":0.362,"y":0.029},{"s":"a1","x":0.269,"y":0.047},
{"s":"a2","x":0.112,"y":0.122},{"s":"a2","x":0.162,"y":0.205},{"s":"a2","x":0.3,"y":0.25},{"s":"a2","x":0.438,"y":0.255},{"s":"a2","x":0.554,"y":0.22},{"s":"a2","x":0.615,"y":0.167},{"s":"a2","x":0.615,"y":0.009},{"s":"a2","x":0.454,"y":-0.041},{"s":"a2","x":0.3,"y":-0.051},{"s":"a2","x":0.162,"y":-0.021},
{"s":"b1","x":0.246,"y":0.115},{"s":"b1","x":0.292,"y":0.145},{"s":"b1","x":0.377,"y":0.152},{"s":"b1","x":0.485,"y":0.167},{"s":"b1","x":0.531,"y":0.122},{"s":"b1","x":0.508,"y":0.062},{"s":"b1","x":0.423,"y":0.039},{"s":"b1","x":0.3,"y":0.029},{"s":"b1","x":0.254,"y":0.062},
{"s":"b2","x":0.108,"y":0.107},{"s":"b2","x":0.154,"y":0.197},{"s":"b2","x":0.269,"y":0.25},{"s":"b2","x":0.362,"y":0.295},{"s":"b2","x":0.438,"y":0.3},{"s":"b2","x":0.554,"y":0.22},{"s":"b2","x":0.615,"y":0.047},{"s":"b2","x":0.454,"y":-0.051},{"s":"b2","x":0.3,"y":-0.059},{"s":"b2","x":0.162,"y":-0.029},
{"s":"c1","x":0.165,"y":0.069},{"s":"c1","x":0.223,"y":0.122},{"s":"c1","x":0.315,"y":0.149},{"s":"c1","x":0.392,"y":0.14},{"s":"c1","x":0.392,"y":0.077},{"s":"c1","x":0.362,"y":0.009},{"s":"c1","x":0.254,"y":-0.006},{"s":"c1","x":0.177,"y":0.001},
{"s":"c2","x":0.092,"y":0.092},{"s":"c2","x":0.123,"y":0.197},{"s":"c2","x":0.223,"y":0.243},{"s":"c2","x":0.362,"y":0.291},{"s":"c2","x":0.485,"y":0.291},{"s":"c2","x":0.585,"y":0.197},{"s":"c2","x":0.615,"y":0.054},{"s":"c2","x":0.531,"y":-0.036},{"s":"c2","x":0.377,"y":-0.086},{"s":"c2","x":0.223,"y":-0.134},{"s":"c2","x":0.118,"y":-0.097}]},
"mark":{"type":"line","interpolate":"cardinal-closed","clip":true,"strokeWidth":1.3},
"encoding":{"x":{"field":"x","type":"quantitative","scale":{"domain":[0.1,0.6]},"axis":null},"y":{"field":"y","type":"quantitative","scale":{"domain":[-0.3,0.3]},"axis":{"orient":"left","values":[-0.2,0,0.2],"format":".1f","title":"Δz₄","titleX":-56,"titleBaseline":"middle"}},"color":{"field":"s","type":"nominal","scale":{"domain":["a1","a2","b1","b2","c1","c2"],"range":["#ff0000","#ff0000","#0000ff","#0000ff","#008000","#008000"]},"legend":null},"order":{"value":null}}},
{"width":134,"height":133,"data":{"values":[
{"s":"a1","x":0.72,"y":0.182},{"s":"a1","x":0.743,"y":0.152},{"s":"a1","x":0.763,"y":0.077},{"s":"a1","x":0.766,"y":0.017},{"s":"a1","x":0.748,"y":0.024},{"s":"a1","x":0.726,"y":0.092},{"s":"a1","x":0.714,"y":0.152},
{"s":"a2","x":0.678,"y":0.3},{"s":"a2","x":0.715,"y":0.273},{"s":"a2","x":0.757,"y":0.182},{"s":"a2","x":0.794,"y":0.062},{"s":"a2","x":0.8,"y":-0.044},{"s":"a2","x":0.78,"y":-0.112},{"s":"a2","x":0.752,"y":-0.101},{"s":"a2","x":0.711,"y":-0.006},{"s":"a2","x":0.683,"y":0.107},{"s":"a2","x":0.674,"y":0.228},
{"s":"b1","x":0.714,"y":0.205},{"s":"b1","x":0.734,"y":0.205},{"s":"b1","x":0.757,"y":0.137},{"s":"b1","x":0.775,"y":0.039},{"s":"b1","x":0.763,"y":0.001},{"s":"b1","x":0.738,"y":0.024},{"s":"b1","x":0.715,"y":0.092},{"s":"b1","x":0.706,"y":0.16},
{"s":"b2","x":0.677,"y":0.31},{"s":"b2","x":0.723,"y":0.265},{"s":"b2","x":0.763,"y":0.167},{"s":"b2","x":0.797,"y":0.039},{"s":"b2","x":0.798,"y":-0.074},{"s":"b2","x":0.778,"y":-0.116},{"s":"b2","x":0.745,"y":-0.104},{"s":"b2","x":0.704,"y":-0.014},{"s":"b2","x":0.678,"y":0.107},{"s":"b2","x":0.671,"y":0.228},
{"s":"c1","x":0.738,"y":0.16},{"s":"c1","x":0.757,"y":0.16},{"s":"c1","x":0.773,"y":0.092},{"s":"c1","x":0.785,"y":0.009},{"s":"c1","x":0.778,"y":-0.036},{"s":"c1","x":0.754,"y":-0.041},{"s":"c1","x":0.738,"y":0.024},{"s":"c1","x":0.729,"y":0.1},
{"s":"c2","x":0.704,"y":0.265},{"s":"c2","x":0.743,"y":0.291},{"s":"c2","x":0.78,"y":0.213},{"s":"c2","x":0.808,"y":0.077},{"s":"c2","x":0.817,"y":-0.051},{"s":"c2","x":0.808,"y":-0.134},{"s":"c2","x":0.78,"y":-0.172},{"s":"c2","x":0.743,"y":-0.134},{"s":"c2","x":0.711,"y":-0.021},{"s":"c2","x":0.697,"y":0.137}]},
"mark":{"type":"line","interpolate":"cardinal-closed","clip":true,"strokeWidth":1.3},
"encoding":{"x":{"field":"x","type":"quantitative","scale":{"domain":[0.6,0.9]},"axis":null},"y":{"field":"y","type":"quantitative","scale":{"domain":[-0.3,0.3]},"axis":null},"color":{"field":"s","type":"nominal","scale":{"domain":["a1","a2","b1","b2","c1","c2"],"range":["#ff0000","#ff0000","#0000ff","#0000ff","#008000","#008000"]},"legend":null},"order":{"value":null}}},
{"width":134,"height":133,"data":{"values":[
{"s":"a1","x":2.23,"y":0.19},{"s":"a1","x":2.8,"y":0.175},{"s":"a1","x":3.12,"y":0.1},{"s":"a1","x":2.97,"y":0.024},{"s":"a1","x":2.43,"y":0.017},{"s":"a1","x":1.94,"y":0.077},{"s":"a1","x":1.89,"y":0.152},
{"s":"a2","x":0.95,"y":0.31},{"s":"a2","x":2.55,"y":0.31},{"s":"a2","x":3.29,"y":0.228},{"s":"a2","x":3.91,"y":0.077},{"s":"a2","x":3.79,"y":-0.036},{"s":"a2","x":3.17,"y":-0.101},{"s":"a2","x":2.43,"y":-0.097},{"s":"a2","x":1.45,"y":-0.021},{"s":"a2","x":0.95,"y":0.092},{"s":"a2","x":0.83,"y":0.213},
{"s":"b1","x":1.5,"y":0.205},{"s":"b1","x":2.19,"y":0.216},{"s":"b1","x":2.87,"y":0.152},{"s":"b1","x":3.22,"y":0.054},{"s":"b1","x":2.92,"y":-0.002},{"s":"b1","x":2.31,"y":0.009},{"s":"b1","x":1.69,"y":0.077},{"s":"b1","x":1.4,"y":0.152},
{"s":"b2","x":0.76,"y":0.31},{"s":"b2","x":2.38,"y":0.31},{"s":"b2","x":3.37,"y":0.228},{"s":"b2","x":3.91,"y":0.062},{"s":"b2","x":3.71,"y":-0.051},{"s":"b2","x":3.05,"y":-0.116},{"s":"b2","x":2.14,"y":-0.107},{"s":"b2","x":1.2,"y":-0.017},{"s":"b2","x":0.76,"y":0.107},{"s":"b2","x":0.59,"y":0.228},
{"s":"c1","x":2.23,"y":0.145},{"s":"c1","x":2.68,"y":0.167},{"s":"c1","x":3.29,"y":0.115},{"s":"c1","x":3.71,"y":0.017},{"s":"c1","x":3.42,"y":-0.036},{"s":"c1","x":2.68,"y":-0.044},{"s":"c1","x":2.14,"y":0.032},{"s":"c1","x":1.99,"y":0.107},
{"s":"c2","x":1.08,"y":0.258},{"s":"c2","x":1.94,"y":0.3},{"s":"c2","x":3.42,"y":0.273},{"s":"c2","x":4.4,"y":0.122},{"s":"c2","x":4.52,"y":-0.014},{"s":"c2","x":4.16,"y":-0.119},{"s":"c2","x":3.05,"y":-0.167},{"s":"c2","x":1.94,"y":-0.152},{"s":"c2","x":1.2,"y":-0.082},{"s":"c2","x":0.83,"y":0.077}]},
"mark":{"type":"line","interpolate":"cardinal-closed","clip":true,"strokeWidth":1.3},
"encoding":{"x":{"field":"x","type":"quantitative","scale":{"domain":[-2,6]},"axis":null},"y":{"field":"y","type":"quantitative","scale":{"domain":[-0.3,0.3]},"axis":null},"color":{"field":"s","type":"nominal","scale":{"domain":["a1","a2","b1","b2","c1","c2"],"range":["#ff0000","#ff0000","#0000ff","#0000ff","#008000","#008000"]},"legend":null},"order":{"value":null}}},
{"width":134,"height":133,
"encoding":{"x":{"field":"x","type":"quantitative","scale":{"domain":[-0.3,0.3]},"axis":null},"y":{"field":"h","type":"quantitative","scale":{"domain":[0,1]},"axis":null},"color":{"field":"s","type":"nominal","scale":{"domain":["a1","a2","b1","b2","c1","c2"],"range":["#ff0000","#ff0000","#0000ff","#0000ff","#008000","#008000"]},"legend":null}},
"layer":[
{"data":{"values":[{"x":-0.3,"a1":0,"b1":0,"c1":0.003},{"x":-0.27,"a1":0.002,"b1":0.002,"c1":0.008},{"x":-0.24,"a1":0.005,"b1":0.005,"c1":0.02},{"x":-0.21,"a1":0.01,"b1":0.012,"c1":0.04},{"x":-0.18,"a1":0.02,"b1":0.025,"c1":0.08},{"x":-0.15,"a1":0.045,"b1":0.05,"c1":0.15},{"x":-0.12,"a1":0.09,"b1":0.1,"c1":0.27},{"x":-0.09,"a1":0.17,"b1":0.18,"c1":0.43},{"x":-0.06,"a1":0.3,"b1":0.31,"c1":0.62},{"x":-0.03,"a1":0.47,"b1":0.47,"c1":0.8},{"x":0,"a1":0.64,"b1":0.63,"c1":0.95},{"x":0.03,"a1":0.79,"b1":0.77,"c1":0.93},{"x":0.06,"a1":0.9,"b1":0.88,"c1":0.9},{"x":0.09,"a1":0.94,"b1":0.93,"c1":0.82},{"x":0.12,"a1":0.93,"b1":0.92,"c1":0.68},{"x":0.15,"a1":0.86,"b1":0.87,"c1":0.53},{"x":0.18,"a1":0.7,"b1":0.73,"c1":0.37},{"x":0.21,"a1":0.48,"b1":0.55,"c1":0.22},{"x":0.24,"a1":0.27,"b1":0.35,"c1":0.15},{"x":0.27,"a1":0.15,"b1":0.21,"c1":0.13},{"x":0.3,"a1":0.15,"b1":0.21,"c1":0.13}]},"transform":[{"fold":["a1","b1","c1"],"as":["s","h"]}],"mark":{"type":"line","interpolate":"step-after","clip":true,"strokeWidth":1.3}},
{"data":{"values":[{"s":"a1","m":"Δz₄ = 0.105","u":"+0.093","d":"−0.087","x":0.219,"h":1.496},{"s":"b1","m":"Δz₄ = 0.106","u":"+0.098","d":"−0.097","x":0.219,"h":1.3},{"s":"c1","m":"Δz₄ = 0.063","u":"+0.107","d":"−0.097","x":0.219,"h":1.105}]},
"layer":[{"mark":{"type":"text","align":"right","baseline":"middle","fontSize":19},"encoding":{"text":{"field":"m"}}},{"mark":{"type":"text","align":"left","baseline":"middle","fontSize":12,"dy":-6.5,"dx":1},"encoding":{"text":{"field":"u"}}},{"mark":{"type":"text","align":"left","baseline":"middle","fontSize":12,"dy":5.5,"dx":1},"encoding":{"text":{"field":"d"}}}]}
]},
{"width":134,"height":133,"view":{"stroke":null},"data":{"values":[]},"mark":"point"},
{"width":134,"height":133,"view":{"stroke":null},"data":{"values":[]},"mark":"point"},
{"width":134,"height":133,"view":{"stroke":null},"data":{"values":[]},"mark":"point"},
{"width":134,"height":133,"data":{"values":[
{"s":"a1","x":0.272,"y":0.04},{"s":"a1","x":0.303,"y":0.131},{"s":"a1","x":0.359,"y":0.153},{"s":"a1","x":0.434,"y":0.07},{"s":"a1","x":0.453,"y":0.002},{"s":"a1","x":0.415,"y":-0.058},{"s":"a1","x":0.313,"y":-0.058},
{"s":"a2","x":0.173,"y":-0.028},{"s":"a2","x":0.191,"y":0.093},{"s":"a2","x":0.238,"y":0.229},{"s":"a2","x":0.35,"y":0.292},{"s":"a2","x":0.499,"y":0.292},{"s":"a2","x":0.583,"y":0.229},{"s":"a2","x":0.611,"y":0.017},{"s":"a2","x":0.574,"y":-0.119},{"s":"a2","x":0.462,"y":-0.164},{"s":"a2","x":0.331,"y":-0.194},{"s":"a2","x":0.229,"y":-0.149},
{"s":"b1","x":0.285,"y":0.078},{"s":"b1","x":0.331,"y":0.161},{"s":"b1","x":0.434,"y":0.169},{"s":"b1","x":0.499,"y":0.093},{"s":"b1","x":0.537,"y":0.01},{"s":"b1","x":0.499,"y":-0.088},{"s":"b1","x":0.369,"y":-0.134},{"s":"b1","x":0.275,"y":-0.073},
{"s":"b2","x":0.141,"y":-0.081},{"s":"b2","x":0.173,"y":0.048},{"s":"b2","x":0.229,"y":0.169},{"s":"b2","x":0.331,"y":0.237},{"s":"b2","x":0.499,"y":0.274},{"s":"b2","x":0.611,"y":0.289},{"s":"b2","x":0.611,"y":-0.104},{"s":"b2","x":0.462,"y":-0.194},{"s":"b2","x":0.275,"y":-0.209},{"s":"b2","x":0.154,"y":-0.202},
{"s":"c1","x":0.219,"y":0.063},{"s":"c1","x":0.247,"y":0.169},{"s":"c1","x":0.331,"y":0.237},{"s":"c1","x":0.425,"y":0.252},{"s":"c1","x":0.481,"y":0.206},{"s":"c1","x":0.49,"y":0.123},{"s":"c1","x":0.425,"y":0.002},{"s":"c1","x":0.313,"y":-0.028},
{"s":"c2","x":0.089,"y":0.093},{"s":"c2","x":0.135,"y":0.259},{"s":"c2","x":0.275,"y":0.3},{"s":"c2","x":0.462,"y":0.3},{"s":"c2","x":0.537,"y":0.138},{"s":"c2","x":0.537,"y":-0.058},{"s":"c2","x":0.425,"y":-0.239},{"s":"c2","x":0.257,"y":-0.262},{"s":"c2","x":0.126,"y":-0.232},{"s":"c2","x":0.089,"y":-0.103}]},
"mark":{"type":"line","interpolate":"cardinal-closed","clip":true,"strokeWidth":1.3},
"encoding":{"x":{"field":"x","type":"quantitative","scale":{"domain":[0.1,0.6]},"axis":{"orient":"bottom","values":[0.2,0.35,0.5],"format":".2f","title":"Ωₘ","titlePadding":1}},"y":{"field":"y","type":"quantitative","scale":{"domain":[-0.3,0.3]},"axis":{"orient":"left","values":[-0.2,0,0.2],"format":".1f","title":"Δz₅","titleX":-56,"titleBaseline":"middle"}},"color":{"field":"s","type":"nominal","scale":{"domain":["a1","a2","b1","b2","c1","c2"],"range":["#ff0000","#ff0000","#0000ff","#0000ff","#008000","#008000"]},"legend":null},"order":{"value":null}}},
{"width":134,"height":133,"data":{"values":[
{"s":"a1","x":0.685,"y":0.32},{"s":"a1","x":0.729,"y":0.32},{"s":"a1","x":0.757,"y":0.123},{"s":"a1","x":0.776,"y":-0.073},{"s":"a1","x":0.754,"y":-0.091},{"s":"a1","x":0.732,"y":-0.058},{"s":"a1","x":0.701,"y":0.108},{"s":"a1","x":0.685,"y":0.259},
{"s":"a2","x":0.651,"y":0.32},{"s":"a2","x":0.713,"y":0.32},{"s":"a2","x":0.785,"y":0.169},{"s":"a2","x":0.802,"y":-0.103},{"s":"a2","x":0.794,"y":-0.221},{"s":"a2","x":0.768,"y":-0.236},{"s":"a2","x":0.735,"y":-0.194},{"s":"a2","x":0.696,"y":0.017},{"s":"a2","x":0.66,"y":0.229},
{"s":"b1","x":0.732,"y":0.153},{"s":"b1","x":0.754,"y":0.161},{"s":"b1","x":0.772,"y":0.033},{"s":"b1","x":0.776,"y":-0.134},{"s":"b1","x":0.752,"y":-0.167},{"s":"b1","x":0.735,"y":-0.126},{"s":"b1","x":0.724,"y":0.017},
{"s":"b2","x":0.66,"y":0.32},{"s":"b2","x":0.709,"y":0.32},{"s":"b2","x":0.787,"y":0.153},{"s":"b2","x":0.802,"y":-0.134},{"s":"b2","x":0.794,"y":-0.315},{"s":"b2","x":0.768,"y":-0.315},{"s":"b2","x":0.735,"y":-0.255},{"s":"b2","x":0.701,"y":-0.058},{"s":"b2","x":0.668,"y":0.138},
{"s":"c1","x":0.713,"y":0.32},{"s":"c1","x":0.757,"y":0.32},{"s":"c1","x":0.785,"y":0.108},{"s":"c1","x":0.787,"y":-0.073},{"s":"c1","x":0.765,"y":-0.119},{"s":"c1","x":0.74,"y":-0.073},{"s":"c1","x":0.727,"y":0.093},{"s":"c1","x":0.713,"y":0.244},
{"s":"c2","x":0.679,"y":0.32},{"s":"c2","x":0.763,"y":0.32},{"s":"c2","x":0.807,"y":0.138},{"s":"c2","x":0.813,"y":-0.134},{"s":"c2","x":0.802,"y":-0.27},{"s":"c2","x":0.774,"y":-0.277},{"s":"c2","x":0.74,"y":-0.179},{"s":"c2","x":0.709,"y":0.017},{"s":"c2","x":0.685,"y":0.199}]},
"mark":{"type":"line","interpolate":"cardinal-closed","clip":true,"strokeWidth":1.3},
"encoding":{"x":{"field":"x","type":"quantitative","scale":{"domain":[0.6,0.9]},"axis":{"orient":"bottom","values":[0.65,0.75,0.85],"format":".2f","title":"S₈","titlePadding":1}},"y":{"field":"y","type":"quantitative","scale":{"domain":[-0.3,0.3]},"axis":null},"color":{"field":"s","type":"nominal","scale":{"domain":["a1","a2","b1","b2","c1","c2"],"range":["#ff0000","#ff0000","#0000ff","#0000ff","#008000","#008000"]},"legend":null},"order":{"value":null}}},
{"width":134,"height":133,"data":{"values":[
{"s":"a1","x":1.76,"y":0.32},{"s":"a1","x":3.01,"y":0.32},{"s":"a1","x":3.19,"y":0.093},{"s":"a1","x":3.1,"y":-0.081},{"s":"a1","x":2.65,"y":-0.103},{"s":"a1","x":2.12,"y":-0.058},{"s":"a1","x":1.82,"y":0.093},{"s":"a1","x":1.64,"y":0.244},
{"s":"a2","x":0.93,"y":0.32},{"s":"a2","x":3.48,"y":0.32},{"s":"a2","x":3.9,"y":0.093},{"s":"a2","x":3.9,"y":-0.164},{"s":"a2","x":3.54,"y":-0.227},{"s":"a2","x":2.36,"y":-0.239},{"s":"a2","x":1.47,"y":-0.164},{"s":"a2","x":1.11,"y":0.093},
{"s":"b1","x":1.76,"y":0.176},{"s":"b1","x":2.21,"y":0.176},{"s":"b1","x":2.71,"y":0.017},{"s":"b1","x":2.95,"y":-0.119},{"s":"b1","x":2.5,"y":-0.156},{"s":"b1","x":2.0,"y":-0.134},{"s":"b1","x":1.7,"y":0.017},
{"s":"b2","x":0.64,"y":0.32},{"s":"b2","x":2.8,"y":0.32},{"s":"b2","x":3.69,"y":0.078},{"s":"b2","x":3.69,"y":-0.179},{"s":"b2","x":3.19,"y":-0.308},{"s":"b2","x":2.0,"y":-0.308},{"s":"b2","x":1.23,"y":-0.179},{"s":"b2","x":0.81,"y":0.078},
{"s":"c1","x":2.12,"y":0.32},{"s":"c1","x":3.3,"y":0.32},{"s":"c1","x":3.6,"y":0.093},{"s":"c1","x":3.24,"y":-0.073},{"s":"c1","x":2.8,"y":-0.096},{"s":"c1","x":2.36,"y":0.017},{"s":"c1","x":2.06,"y":0.169},
{"s":"c2","x":1.23,"y":0.32},{"s":"c2","x":4.43,"y":0.32},{"s":"c2","x":4.49,"y":0.093},{"s":"c2","x":4.28,"y":-0.194},{"s":"c2","x":3.69,"y":-0.308},{"s":"c2","x":2.21,"y":-0.308},{"s":"c2","x":1.76,"y":-0.179},{"s":"c2","x":1.41,"y":0.093}]},
"mark":{"type":"line","interpolate":"cardinal-closed","clip":true,"strokeWidth":1.3},
"encoding":{"x":{"field":"x","type":"quantitative","scale":{"domain":[-2,6]},"axis":{"orient":"bottom","values":[0,2,4],"format":"d","title":"Aᵢₐ","titlePadding":1}},"y":{"field":"y","type":"quantitative","scale":{"domain":[-0.3,0.3]},"axis":null},"color":{"field":"s","type":"nominal","scale":{"domain":["a1","a2","b1","b2","c1","c2"],"range":["#ff0000","#ff0000","#0000ff","#0000ff","#008000","#008000"]},"legend":null},"order":{"value":null}}},
{"width":134,"height":133,"data":{"values":[
{"s":"a1","x":0.071,"y":0.214},{"s":"a1","x":0.138,"y":0.199},{"s":"a1","x":0.156,"y":0.048},{"s":"a1","x":0.127,"y":-0.058},{"s":"a1","x":0.071,"y":-0.051},{"s":"a1","x":0.049,"y":0.093},
{"s":"a2","x":-0.044,"y":0.32},{"s":"a2","x":0.231,"y":0.32},{"s":"a2","x":0.267,"y":0.093},{"s":"a2","x":0.238,"y":-0.119},{"s":"a2","x":0.171,"y":-0.182},{"s":"a2","x":0.027,"y":-0.179},{"s":"a2","x":-0.04,"y":-0.058},{"s":"a2","x":-0.067,"y":0.169},
{"s":"b1","x":0.004,"y":0.138},{"s":"b1","x":0.06,"y":0.184},{"s":"b1","x":0.149,"y":0.153},{"s":"b1","x":0.16,"y":0.048},{"s":"b1","x":0.138,"y":-0.058},{"s":"b1","x":0.071,"y":-0.134},{"s":"b1","x":0.004,"y":-0.119},{"s":"b1","x":-0.018,"y":0.002},
{"s":"b2","x":-0.084,"y":0.32},{"s":"b2","x":0.282,"y":0.32},{"s":"b2","x":0.315,"y":0.138},{"s":"b2","x":0.293,"y":-0.104},{"s":"b2","x":0.216,"y":-0.262},{"s":"b2","x":0.06,"y":-0.303},{"s":"b2","x":-0.029,"y":-0.262},{"s":"b2","x":-0.073,"y":-0.058},{"s":"b2","x":-0.096,"y":0.169},
{"s":"c1","x":0.06,"y":0.32},{"s":"c1","x":0.187,"y":0.32},{"s":"c1","x":0.209,"y":0.169},{"s":"c1","x":0.2,"y":0.017},{"s":"c1","x":0.149,"y":-0.043},{"s":"c1","x":0.093,"y":-0.081},{"s":"c1","x":0.06,"y":0.017},{"s":"c1","x":0.049,"y":0.169},
{"s":"c2","x":-0.118,"y":0.32},{"s":"c2","x":0.244,"y":0.32},{"s":"c2","x":0.282,"y":0.093},{"s":"c2","x":0.253,"y":-0.134},{"s":"c2","x":0.182,"y":-0.255},{"s":"c2","x":0.071,"y":-0.288},{"s":"c2","x":-0.044,"y":-0.224},{"s":"c2","x":-0.107,"y":-0.058},{"s":"c2","x":-0.129,"y":0.169}]},
"mark":{"type":"line","interpolate":"cardinal-closed","clip":true,"strokeWidth":1.3},
"encoding":{"x":{"field":"x","type":"quantitative","scale":{"domain":[-0.3,0.3]},"axis":{"orient":"bottom","values":[-0.2,0,0.2],"format":".1f","title":"Δz₄","titlePadding":1}},"y":{"field":"y","type":"quantitative","scale":{"domain":[-0.3,0.3]},"axis":null},"color":{"field":"s","type":"nominal","scale":{"domain":["a1","a2","b1","b2","c1","c2"],"range":["#ff0000","#ff0000","#0000ff","#0000ff","#008000","#008000"]},"legend":null},"order":{"value":null}}},
{"width":134,"height":133,
"encoding":{"x":{"field":"x","type":"quantitative","scale":{"domain":[-0.3,0.3]},"axis":{"orient":"bottom","values":[-0.2,0,0.2],"format":".1f","title":"Δz₅","titlePadding":1}},"y":{"field":"h","type":"quantitative","scale":{"domain":[0,1]},"axis":null},"color":{"field":"s","type":"nominal","scale":{"domain":["a1","a2","b1","b2","c1","c2"],"range":["#ff0000","#ff0000","#0000ff","#0000ff","#008000","#008000"]},"legend":null}},
"layer":[
{"data":{"values":[{"x":-0.3,"a1":0.08,"b1":0.35,"c1":0.21},{"x":-0.27,"a1":0.12,"b1":0.4,"c1":0.26},{"x":-0.24,"a1":0.18,"b1":0.5,"c1":0.32},{"x":-0.21,"a1":0.27,"b1":0.58,"c1":0.4},{"x":-0.18,"a1":0.36,"b1":0.7,"c1":0.47},{"x":-0.15,"a1":0.47,"b1":0.78,"c1":0.55},{"x":-0.12,"a1":0.57,"b1":0.86,"c1":0.62},{"x":-0.09,"a1":0.68,"b1":0.94,"c1":0.7},{"x":-0.06,"a1":0.77,"b1":0.95,"c1":0.76},{"x":-0.03,"a1":0.85,"b1":0.92,"c1":0.8},{"x":0,"a1":0.9,"b1":0.9,"c1":0.84},{"x":0.03,"a1":0.94,"b1":0.88,"c1":0.86},{"x":0.06,"a1":0.96,"b1":0.86,"c1":0.86},{"x":0.09,"a1":0.95,"b1":0.8,"c1":0.83},{"x":0.12,"a1":0.9,"b1":0.72,"c1":0.8},{"x":0.15,"a1":0.83,"b1":0.62,"c1":0.76},{"x":0.18,"a1":0.72,"b1":0.52,"c1":0.7},{"x":0.21,"a1":0.62,"b1":0.5,"c1":0.65},{"x":0.24,"a1":0.52,"b1":0.45,"c1":0.58},{"x":0.27,"a1":0.44,"b1":0.4,"c1":0.53},{"x":0.3,"a1":0.44,"b1":0.4,"c1":0.53}]},"transform":[{"fold":["a1","b1","c1"],"as":["s","h"]}],"mark":{"type":"line","interpolate":"step-after","clip":true,"strokeWidth":1.3}},
{"data":{"values":[{"s":"a1","m":"Δz₅ = 0.057","u":"+0.150","d":"−0.157","x":0.224,"h":1.496},{"s":"b1","m":"Δz₅ = − 0.005","u":"+0.169","d":"−0.154","x":0.331,"h":1.3},{"s":"c1","m":"Δz₅ = 0.055","u":"+0.159","d":"−0.184","x":0.224,"h":1.105}]},
"layer":[{"mark":{"type":"text","align":"right","baseline":"middle","fontSize":19},"encoding":{"text":{"field":"m"}}},{"mark":{"type":"text","align":"left","baseline":"middle","fontSize":12,"dy":-6.5,"dx":1},"encoding":{"text":{"field":"u"}}},{"mark":{"type":"text","align":"left","baseline":"middle","fontSize":12,"dy":5.5,"dx":1},"encoding":{"text":{"field":"d"}}}]}
]},
{"width":134,"height":133,"view":{"stroke":null},"data":{"values":[]},"mark":"point"},
{"width":134,"height":133,"view":{"stroke":null},"data":{"values":[]},"mark":"point"}
]
}
